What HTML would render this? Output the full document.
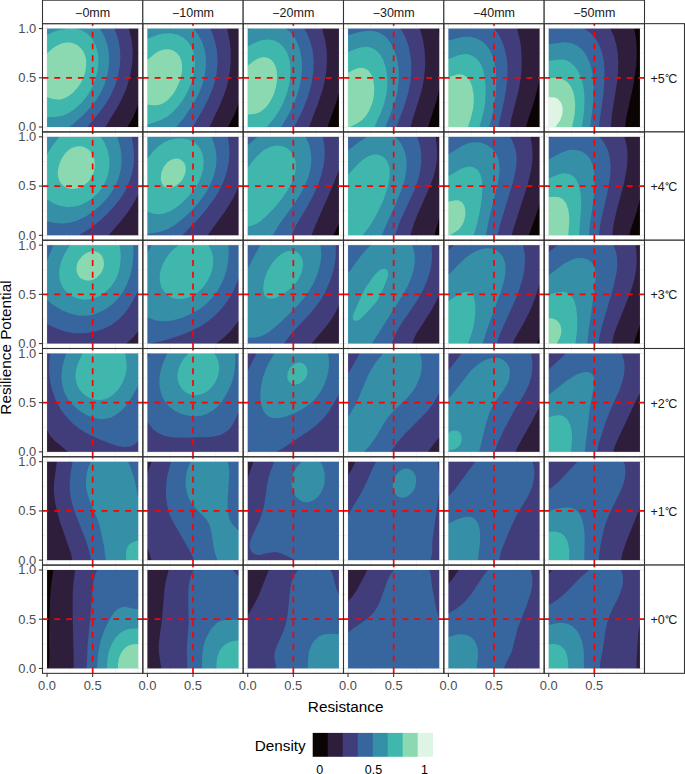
<!DOCTYPE html><html><head><meta charset="utf-8"><style>html,body{margin:0;padding:0;background:#fff;width:685px;height:774px;overflow:hidden;position:relative}</style></head><body><svg width="685" height="774" viewBox="0 0 685 774" style="position:absolute;left:0;top:0">
<rect width="100%" height="100%" fill="#fff"/>
<defs><mask id="c00" maskUnits="userSpaceOnUse" x="45.06" y="26.57" width="95.21" height="102.44"><rect x="47.06" y="28.57" width="91.21" height="98.44" fill="#fff"/></mask><clipPath id="p00"><rect x="42.5" y="23.65" width="100.33" height="108.28"/></clipPath><mask id="c01" maskUnits="userSpaceOnUse" x="145.39" y="26.57" width="95.21" height="102.44"><rect x="147.39" y="28.57" width="91.21" height="98.44" fill="#fff"/></mask><clipPath id="p01"><rect x="142.83" y="23.65" width="100.33" height="108.28"/></clipPath><mask id="c02" maskUnits="userSpaceOnUse" x="245.73" y="26.57" width="95.21" height="102.44"><rect x="247.73" y="28.57" width="91.21" height="98.44" fill="#fff"/></mask><clipPath id="p02"><rect x="243.17" y="23.65" width="100.33" height="108.28"/></clipPath><mask id="c03" maskUnits="userSpaceOnUse" x="346.06" y="26.57" width="95.21" height="102.44"><rect x="348.06" y="28.57" width="91.21" height="98.44" fill="#fff"/></mask><clipPath id="p03"><rect x="343.5" y="23.65" width="100.33" height="108.28"/></clipPath><mask id="c04" maskUnits="userSpaceOnUse" x="446.39" y="26.57" width="95.21" height="102.44"><rect x="448.39" y="28.57" width="91.21" height="98.44" fill="#fff"/></mask><clipPath id="p04"><rect x="443.83" y="23.65" width="100.33" height="108.28"/></clipPath><mask id="c05" maskUnits="userSpaceOnUse" x="546.73" y="26.57" width="95.21" height="102.44"><rect x="548.73" y="28.57" width="91.21" height="98.44" fill="#fff"/></mask><clipPath id="p05"><rect x="544.17" y="23.65" width="100.33" height="108.28"/></clipPath><mask id="c10" maskUnits="userSpaceOnUse" x="45.06" y="134.86" width="95.21" height="102.44"><rect x="47.06" y="136.86" width="91.21" height="98.44" fill="#fff"/></mask><clipPath id="p10"><rect x="42.5" y="131.93" width="100.33" height="108.28"/></clipPath><mask id="c11" maskUnits="userSpaceOnUse" x="145.39" y="134.86" width="95.21" height="102.44"><rect x="147.39" y="136.86" width="91.21" height="98.44" fill="#fff"/></mask><clipPath id="p11"><rect x="142.83" y="131.93" width="100.33" height="108.28"/></clipPath><mask id="c12" maskUnits="userSpaceOnUse" x="245.73" y="134.86" width="95.21" height="102.44"><rect x="247.73" y="136.86" width="91.21" height="98.44" fill="#fff"/></mask><clipPath id="p12"><rect x="243.17" y="131.93" width="100.33" height="108.28"/></clipPath><mask id="c13" maskUnits="userSpaceOnUse" x="346.06" y="134.86" width="95.21" height="102.44"><rect x="348.06" y="136.86" width="91.21" height="98.44" fill="#fff"/></mask><clipPath id="p13"><rect x="343.5" y="131.93" width="100.33" height="108.28"/></clipPath><mask id="c14" maskUnits="userSpaceOnUse" x="446.39" y="134.86" width="95.21" height="102.44"><rect x="448.39" y="136.86" width="91.21" height="98.44" fill="#fff"/></mask><clipPath id="p14"><rect x="443.83" y="131.93" width="100.33" height="108.28"/></clipPath><mask id="c15" maskUnits="userSpaceOnUse" x="546.73" y="134.86" width="95.21" height="102.44"><rect x="548.73" y="136.86" width="91.21" height="98.44" fill="#fff"/></mask><clipPath id="p15"><rect x="544.17" y="131.93" width="100.33" height="108.28"/></clipPath><mask id="c20" maskUnits="userSpaceOnUse" x="45.06" y="243.14" width="95.21" height="102.44"><rect x="47.06" y="245.14" width="91.21" height="98.44" fill="#fff"/></mask><clipPath id="p20"><rect x="42.5" y="240.22" width="100.33" height="108.28"/></clipPath><mask id="c21" maskUnits="userSpaceOnUse" x="145.39" y="243.14" width="95.21" height="102.44"><rect x="147.39" y="245.14" width="91.21" height="98.44" fill="#fff"/></mask><clipPath id="p21"><rect x="142.83" y="240.22" width="100.33" height="108.28"/></clipPath><mask id="c22" maskUnits="userSpaceOnUse" x="245.73" y="243.14" width="95.21" height="102.44"><rect x="247.73" y="245.14" width="91.21" height="98.44" fill="#fff"/></mask><clipPath id="p22"><rect x="243.17" y="240.22" width="100.33" height="108.28"/></clipPath><mask id="c23" maskUnits="userSpaceOnUse" x="346.06" y="243.14" width="95.21" height="102.44"><rect x="348.06" y="245.14" width="91.21" height="98.44" fill="#fff"/></mask><clipPath id="p23"><rect x="343.5" y="240.22" width="100.33" height="108.28"/></clipPath><mask id="c24" maskUnits="userSpaceOnUse" x="446.39" y="243.14" width="95.21" height="102.44"><rect x="448.39" y="245.14" width="91.21" height="98.44" fill="#fff"/></mask><clipPath id="p24"><rect x="443.83" y="240.22" width="100.33" height="108.28"/></clipPath><mask id="c25" maskUnits="userSpaceOnUse" x="546.73" y="243.14" width="95.21" height="102.44"><rect x="548.73" y="245.14" width="91.21" height="98.44" fill="#fff"/></mask><clipPath id="p25"><rect x="544.17" y="240.22" width="100.33" height="108.28"/></clipPath><mask id="c30" maskUnits="userSpaceOnUse" x="45.06" y="351.42" width="95.21" height="102.44"><rect x="47.06" y="353.42" width="91.21" height="98.44" fill="#fff"/></mask><clipPath id="p30"><rect x="42.5" y="348.5" width="100.33" height="108.28"/></clipPath><mask id="c31" maskUnits="userSpaceOnUse" x="145.39" y="351.42" width="95.21" height="102.44"><rect x="147.39" y="353.42" width="91.21" height="98.44" fill="#fff"/></mask><clipPath id="p31"><rect x="142.83" y="348.5" width="100.33" height="108.28"/></clipPath><mask id="c32" maskUnits="userSpaceOnUse" x="245.73" y="351.42" width="95.21" height="102.44"><rect x="247.73" y="353.42" width="91.21" height="98.44" fill="#fff"/></mask><clipPath id="p32"><rect x="243.17" y="348.5" width="100.33" height="108.28"/></clipPath><mask id="c33" maskUnits="userSpaceOnUse" x="346.06" y="351.42" width="95.21" height="102.44"><rect x="348.06" y="353.42" width="91.21" height="98.44" fill="#fff"/></mask><clipPath id="p33"><rect x="343.5" y="348.5" width="100.33" height="108.28"/></clipPath><mask id="c34" maskUnits="userSpaceOnUse" x="446.39" y="351.42" width="95.21" height="102.44"><rect x="448.39" y="353.42" width="91.21" height="98.44" fill="#fff"/></mask><clipPath id="p34"><rect x="443.83" y="348.5" width="100.33" height="108.28"/></clipPath><mask id="c35" maskUnits="userSpaceOnUse" x="546.73" y="351.42" width="95.21" height="102.44"><rect x="548.73" y="353.42" width="91.21" height="98.44" fill="#fff"/></mask><clipPath id="p35"><rect x="544.17" y="348.5" width="100.33" height="108.28"/></clipPath><mask id="c40" maskUnits="userSpaceOnUse" x="45.06" y="459.71" width="95.21" height="102.44"><rect x="47.06" y="461.71" width="91.21" height="98.44" fill="#fff"/></mask><clipPath id="p40"><rect x="42.5" y="456.78" width="100.33" height="108.28"/></clipPath><mask id="c41" maskUnits="userSpaceOnUse" x="145.39" y="459.71" width="95.21" height="102.44"><rect x="147.39" y="461.71" width="91.21" height="98.44" fill="#fff"/></mask><clipPath id="p41"><rect x="142.83" y="456.78" width="100.33" height="108.28"/></clipPath><mask id="c42" maskUnits="userSpaceOnUse" x="245.73" y="459.71" width="95.21" height="102.44"><rect x="247.73" y="461.71" width="91.21" height="98.44" fill="#fff"/></mask><clipPath id="p42"><rect x="243.17" y="456.78" width="100.33" height="108.28"/></clipPath><mask id="c43" maskUnits="userSpaceOnUse" x="346.06" y="459.71" width="95.21" height="102.44"><rect x="348.06" y="461.71" width="91.21" height="98.44" fill="#fff"/></mask><clipPath id="p43"><rect x="343.5" y="456.78" width="100.33" height="108.28"/></clipPath><mask id="c44" maskUnits="userSpaceOnUse" x="446.39" y="459.71" width="95.21" height="102.44"><rect x="448.39" y="461.71" width="91.21" height="98.44" fill="#fff"/></mask><clipPath id="p44"><rect x="443.83" y="456.78" width="100.33" height="108.28"/></clipPath><mask id="c45" maskUnits="userSpaceOnUse" x="546.73" y="459.71" width="95.21" height="102.44"><rect x="548.73" y="461.71" width="91.21" height="98.44" fill="#fff"/></mask><clipPath id="p45"><rect x="544.17" y="456.78" width="100.33" height="108.28"/></clipPath><mask id="c50" maskUnits="userSpaceOnUse" x="45.06" y="567.99" width="95.21" height="102.44"><rect x="47.06" y="569.99" width="91.21" height="98.44" fill="#fff"/></mask><clipPath id="p50"><rect x="42.5" y="565.07" width="100.33" height="108.28"/></clipPath><mask id="c51" maskUnits="userSpaceOnUse" x="145.39" y="567.99" width="95.21" height="102.44"><rect x="147.39" y="569.99" width="91.21" height="98.44" fill="#fff"/></mask><clipPath id="p51"><rect x="142.83" y="565.07" width="100.33" height="108.28"/></clipPath><mask id="c52" maskUnits="userSpaceOnUse" x="245.73" y="567.99" width="95.21" height="102.44"><rect x="247.73" y="569.99" width="91.21" height="98.44" fill="#fff"/></mask><clipPath id="p52"><rect x="243.17" y="565.07" width="100.33" height="108.28"/></clipPath><mask id="c53" maskUnits="userSpaceOnUse" x="346.06" y="567.99" width="95.21" height="102.44"><rect x="348.06" y="569.99" width="91.21" height="98.44" fill="#fff"/></mask><clipPath id="p53"><rect x="343.5" y="565.07" width="100.33" height="108.28"/></clipPath><mask id="c54" maskUnits="userSpaceOnUse" x="446.39" y="567.99" width="95.21" height="102.44"><rect x="448.39" y="569.99" width="91.21" height="98.44" fill="#fff"/></mask><clipPath id="p54"><rect x="443.83" y="565.07" width="100.33" height="108.28"/></clipPath><mask id="c55" maskUnits="userSpaceOnUse" x="546.73" y="567.99" width="95.21" height="102.44"><rect x="548.73" y="569.99" width="91.21" height="98.44" fill="#fff"/></mask><clipPath id="p55"><rect x="544.17" y="565.07" width="100.33" height="108.28"/></clipPath></defs>
<g font-family='"Liberation Sans", sans-serif'>
<line x1="47.06" y1="23.65" x2="47.06" y2="131.93" stroke="#EBEBEB" stroke-width="1.07"/><line x1="69.86" y1="23.65" x2="69.86" y2="131.93" stroke="#EBEBEB" stroke-width="0.53"/><line x1="92.67" y1="23.65" x2="92.67" y2="131.93" stroke="#EBEBEB" stroke-width="1.07"/><line x1="115.47" y1="23.65" x2="115.47" y2="131.93" stroke="#EBEBEB" stroke-width="0.53"/><line x1="138.27" y1="23.65" x2="138.27" y2="131.93" stroke="#EBEBEB" stroke-width="0.53"/><line x1="42.5" y1="127.01" x2="142.83" y2="127.01" stroke="#EBEBEB" stroke-width="1.07"/><line x1="42.5" y1="102.4" x2="142.83" y2="102.4" stroke="#EBEBEB" stroke-width="0.53"/><line x1="42.5" y1="77.79" x2="142.83" y2="77.79" stroke="#EBEBEB" stroke-width="1.07"/><line x1="42.5" y1="53.18" x2="142.83" y2="53.18" stroke="#EBEBEB" stroke-width="0.53"/><line x1="42.5" y1="28.57" x2="142.83" y2="28.57" stroke="#EBEBEB" stroke-width="1.07"/>
<g mask="url(#c00)"><rect x="46.06" y="27.57" width="93.21" height="100.44" fill="#0B0405"/>
<path d="M139.64 27.1 45.69 27.1 45.69 128.49 127.26 128.49 127.26 127.01 131.43 120.49 133.71 115.99 138.27 104.6 139.64 104.6Z" fill="#2E1E3C" fill-rule="evenodd"/>
<path d="M129.08 27.1 45.69 27.1 45.69 128.49 105.33 128.49 105.33 127.01 117.9 106.5 121.82 99.12 126.64 87.64 130.22 75.33 132.19 63.85 132.73 51.54 131.8 40.88 129.08 28.57Z" fill="#413D7B" fill-rule="evenodd"/>
<path d="M114.47 27.1 45.69 27.1 45.69 128.49 87.31 128.49 87.31 127.01 99.51 112.2 105.5 104.04 110.91 95.02 114.86 85.99 117.94 76.15 119.82 66.31 120.39 56.46 119.78 47.44 118.19 39.24 114.47 28.57Z" fill="#37659E" fill-rule="evenodd"/>
<path d="M99.9 27.1 45.69 27.1 45.69 128.49 69.55 128.49 69.55 127.01 82.03 116.27 90.39 107.56 96.41 99.94 100.85 92.56 104.54 84.35 107.29 75.33 108.74 67.13 109.18 58.1 108.57 50.72 106.99 43.34 104.07 35.74 99.9 28.57Z" fill="#348FA7" fill-rule="evenodd"/>
<path d="M74.95 27.1 67.32 27.1 67.32 28.57 59.22 29.93 53.9 31.87 47.06 35.08 45.69 35.08 45.69 117.21 55.42 116.99 62.26 115.71 68.34 113.23 75.18 108.62 81.27 102.96 87.35 95.41 91.87 87.64 95.62 78.61 97.78 69.59 98.47 61.39 97.83 53.18 95.71 45.39 92.42 39.24 88.11 34.35 85.07 32.13 82.03 30.53 78.22 29.2 74.95 28.57Z" fill="#40B7AD" fill-rule="evenodd"/>
<path d="M77.09 44.98 73.66 43.38 69.86 42.5 66.06 42.46 62.26 43.22 59.22 44.4 55.42 46.54 51.87 49.08 47.06 53.44 45.69 53.44 45.69 97.17 47.06 97.17 53.14 99.07 56.94 99.56 60.74 99.38 64.54 98.3 69.1 95.86 72.9 92.79 76.92 88.46 80.51 83.43 83.36 77.79 85.27 72.05 86.2 66.31 86.19 60.56 85.13 55.64 83.36 51.54 80.51 47.71Z" fill="#8AD9B1" fill-rule="evenodd"/>
</g>
<g clip-path="url(#p00)" stroke="#FF0000" stroke-width="1.7" stroke-dasharray="5.9 5.9"><line x1="92.67" y1="131.93" x2="92.67" y2="23.65"/><line x1="42.5" y1="77.79" x2="142.83" y2="77.79"/></g>
<line x1="147.39" y1="23.65" x2="147.39" y2="131.93" stroke="#EBEBEB" stroke-width="1.07"/><line x1="170.2" y1="23.65" x2="170.2" y2="131.93" stroke="#EBEBEB" stroke-width="0.53"/><line x1="193" y1="23.65" x2="193" y2="131.93" stroke="#EBEBEB" stroke-width="1.07"/><line x1="215.8" y1="23.65" x2="215.8" y2="131.93" stroke="#EBEBEB" stroke-width="0.53"/><line x1="238.61" y1="23.65" x2="238.61" y2="131.93" stroke="#EBEBEB" stroke-width="0.53"/><line x1="142.83" y1="127.01" x2="243.17" y2="127.01" stroke="#EBEBEB" stroke-width="1.07"/><line x1="142.83" y1="102.4" x2="243.17" y2="102.4" stroke="#EBEBEB" stroke-width="0.53"/><line x1="142.83" y1="77.79" x2="243.17" y2="77.79" stroke="#EBEBEB" stroke-width="1.07"/><line x1="142.83" y1="53.18" x2="243.17" y2="53.18" stroke="#EBEBEB" stroke-width="0.53"/><line x1="142.83" y1="28.57" x2="243.17" y2="28.57" stroke="#EBEBEB" stroke-width="1.07"/>
<g mask="url(#c01)"><rect x="146.39" y="27.57" width="93.21" height="100.44" fill="#0B0405"/>
<path d="M239.97 27.1 146.03 27.1 146.03 128.49 228.04 128.49 228.04 127.01 234.81 113.86 238.61 103.08 239.97 103.08Z" fill="#2E1E3C" fill-rule="evenodd"/>
<path d="M227.14 27.1 146.03 27.1 146.03 128.49 209.57 128.49 209.57 127.01 219.56 105.68 224.26 94.2 227.16 85.17 229.34 75.33 230.63 63.85 230.75 51.54 229.75 40.88 227.14 28.57Z" fill="#413D7B" fill-rule="evenodd"/>
<path d="M210.26 27.1 146.03 27.1 146.03 128.49 192.8 128.49 192.8 127.01 204.2 107.32 209.83 95.84 213.81 85.17 216.58 73.69 217.62 62.21 216.94 50.72 214.89 40.88 213.04 35.13 210.26 28.57Z" fill="#37659E" fill-rule="evenodd"/>
<path d="M193.67 27.1 146.03 27.1 146.03 128.49 176.32 128.49 176.32 127.01 183.88 117.9 191.19 107.32 194.68 101.58 198.48 94.2 202.12 85.23 204.62 76.15 205.87 67.13 205.89 58.1 204.87 50.72 202.7 43.34 198.59 35.13 193.67 28.57Z" fill="#348FA7" fill-rule="evenodd"/>
<path d="M177.8 34.77 170.96 33.3 164.12 33.46 158.04 34.76 148.15 38.61 146.03 38.86 146.03 124.48 147.39 124.48 154.23 122.52 161.08 120.06 167.16 116.7 171.72 113.12 177.8 106.87 182.92 99.94 187.16 92.56 191.1 83.53 193.51 75.33 194.74 67.13 194.75 59.74 193.5 52.36 191.24 46.62 187.68 41.48 183.12 37.49Z" fill="#40B7AD" fill-rule="evenodd"/>
<path d="M174 50.9 170.96 49.73 167.92 49.24 164.88 49.38 161.84 50.05 158.8 51.33 154.99 53.62 147.39 60.04 146.03 60.04 146.03 104.4 152.71 105.33 155.76 105.36 159.56 104.73 163.36 103.13 166.97 100.76 170.2 97.6 173.54 93.38 176.28 88.73 179.07 82.71 180.9 76.97 182 71.23 182.15 65.49 181.35 60.56 179.67 56.46 177.14 53.18Z" fill="#8AD9B1" fill-rule="evenodd"/>
</g>
<g clip-path="url(#p01)" stroke="#FF0000" stroke-width="1.7" stroke-dasharray="5.9 5.9"><line x1="193" y1="131.93" x2="193" y2="23.65"/><line x1="142.83" y1="77.79" x2="243.17" y2="77.79"/></g>
<line x1="247.73" y1="23.65" x2="247.73" y2="131.93" stroke="#EBEBEB" stroke-width="1.07"/><line x1="270.53" y1="23.65" x2="270.53" y2="131.93" stroke="#EBEBEB" stroke-width="0.53"/><line x1="293.33" y1="23.65" x2="293.33" y2="131.93" stroke="#EBEBEB" stroke-width="1.07"/><line x1="316.14" y1="23.65" x2="316.14" y2="131.93" stroke="#EBEBEB" stroke-width="0.53"/><line x1="338.94" y1="23.65" x2="338.94" y2="131.93" stroke="#EBEBEB" stroke-width="0.53"/><line x1="243.17" y1="127.01" x2="343.5" y2="127.01" stroke="#EBEBEB" stroke-width="1.07"/><line x1="243.17" y1="102.4" x2="343.5" y2="102.4" stroke="#EBEBEB" stroke-width="0.53"/><line x1="243.17" y1="77.79" x2="343.5" y2="77.79" stroke="#EBEBEB" stroke-width="1.07"/><line x1="243.17" y1="53.18" x2="343.5" y2="53.18" stroke="#EBEBEB" stroke-width="0.53"/><line x1="243.17" y1="28.57" x2="343.5" y2="28.57" stroke="#EBEBEB" stroke-width="1.07"/>
<g mask="url(#c02)"><rect x="246.73" y="27.57" width="93.21" height="100.44" fill="#0B0405"/>
<path d="M340.31 27.1 246.36 27.1 246.36 128.49 327.44 128.49 327.44 127.01 335.98 103.22 338.94 93.26 340.31 93.26Z" fill="#2E1E3C" fill-rule="evenodd"/>
<path d="M322.01 27.1 246.36 27.1 246.36 128.49 309.05 128.49 309.05 127.01 318.44 102.4 322.52 90.1 324.38 82.71 326.17 72.05 326.99 61.39 326.65 49.9 325.21 40.06 322.01 28.57Z" fill="#413D7B" fill-rule="evenodd"/>
<path d="M304.36 27.1 246.36 27.1 246.36 128.49 294.21 128.49 294.21 127.01 301.7 112.25 307.63 97.48 311.44 84.35 313.27 72.87 313.74 60.56 312.55 49.9 310.05 40.88 307.4 34.31 304.36 28.57Z" fill="#37659E" fill-rule="evenodd"/>
<path d="M286.04 27.1 250.93 27.1 250.93 28.57 247.73 29.8 246.36 29.8 246.36 128.49 281.24 128.49 281.24 127.01 289.87 112.25 295.16 100.76 298.73 90.1 301.04 79.43 302.04 67.95 301.56 58.1 299.73 49.08 296.86 41.7 294.59 37.6 292.24 34.31 289.53 31.43 286.04 28.57Z" fill="#348FA7" fill-rule="evenodd"/>
<path d="M273.57 40.32 268.25 39.43 262.17 40.03 256.09 42.13 247.73 46.32 246.36 46.32 246.36 128.49 266.67 128.49 266.67 127.01 273.57 119.11 279.28 110.6 283.78 101.58 287.1 92.56 289.37 83.53 290.5 74.51 290.43 66.31 289.25 58.92 286.9 52.36 283.45 46.98 278.89 42.86Z" fill="#40B7AD" fill-rule="evenodd"/>
<path d="M267.49 57.7 263.69 57.09 259.13 58 253.81 60.89 247.73 65.84 246.36 65.84 246.36 114.82 255.33 113.84 259.13 112.46 262.19 110.6 265.97 107.19 269.01 103.35 271.96 98.3 274.07 93.38 275.83 87.64 276.86 81.89 277.19 76.15 276.65 70.41 275.21 65.49 273.36 62.21 270.53 59.3Z" fill="#8AD9B1" fill-rule="evenodd"/>
</g>
<g clip-path="url(#p02)" stroke="#FF0000" stroke-width="1.7" stroke-dasharray="5.9 5.9"><line x1="293.33" y1="131.93" x2="293.33" y2="23.65"/><line x1="243.17" y1="77.79" x2="343.5" y2="77.79"/></g>
<line x1="348.06" y1="23.65" x2="348.06" y2="131.93" stroke="#EBEBEB" stroke-width="1.07"/><line x1="370.86" y1="23.65" x2="370.86" y2="131.93" stroke="#EBEBEB" stroke-width="0.53"/><line x1="393.67" y1="23.65" x2="393.67" y2="131.93" stroke="#EBEBEB" stroke-width="1.07"/><line x1="416.47" y1="23.65" x2="416.47" y2="131.93" stroke="#EBEBEB" stroke-width="0.53"/><line x1="439.27" y1="23.65" x2="439.27" y2="131.93" stroke="#EBEBEB" stroke-width="0.53"/><line x1="343.5" y1="127.01" x2="443.83" y2="127.01" stroke="#EBEBEB" stroke-width="1.07"/><line x1="343.5" y1="102.4" x2="443.83" y2="102.4" stroke="#EBEBEB" stroke-width="0.53"/><line x1="343.5" y1="77.79" x2="443.83" y2="77.79" stroke="#EBEBEB" stroke-width="1.07"/><line x1="343.5" y1="53.18" x2="443.83" y2="53.18" stroke="#EBEBEB" stroke-width="0.53"/><line x1="343.5" y1="28.57" x2="443.83" y2="28.57" stroke="#EBEBEB" stroke-width="1.07"/>
<g mask="url(#c03)"><rect x="347.06" y="27.57" width="93.21" height="100.44" fill="#0B0405"/>
<path d="M438.01 27.1 346.69 27.1 346.69 128.49 428.07 128.49 428.07 127.01 436.71 99.94 439.27 89.21 440.64 89.21 440.64 34.51 439.27 34.51Z" fill="#2E1E3C" fill-rule="evenodd"/>
<path d="M419.82 27.1 346.69 27.1 346.69 128.49 410.51 128.49 410.51 127.01 412.53 119.63 419.14 99.12 421.88 89.28 423.59 81.07 424.75 72.05 425.22 61.39 424.59 49.9 422.88 39.24 419.82 28.57Z" fill="#413D7B" fill-rule="evenodd"/>
<path d="M400.25 27.1 346.69 27.1 346.69 128.49 396.57 128.49 397.09 125.37 404.64 104.86 407.87 94.2 410.27 82.71 411.35 72.05 411.04 59.74 408.96 47.44 405.96 38.42 403.49 33.49 400.25 28.57Z" fill="#37659E" fill-rule="evenodd"/>
<path d="M376.94 31.79 371.62 30.79 365.54 30.88 359.46 31.98 349.58 34.82 346.69 35.12 346.69 128.49 385.52 128.49 385.8 126.19 394.75 102.4 397.58 90.92 398.92 79.43 398.74 68.77 396.92 58.1 393.67 48.64 391.4 44.16 389.11 40.7 386.4 37.6 383.54 35.13 379.98 32.96Z" fill="#348FA7" fill-rule="evenodd"/>
<path d="M370.86 47.5 366.3 46.81 361.74 47.17 356.42 48.66 348.06 52.07 346.69 52.07 346.69 128.49 374.34 128.49 374.34 127.01 380.73 113.07 384.27 103.22 386.39 94.2 387.36 85.17 387.18 76.15 385.86 67.95 383.48 60.56 379.98 54.21 375.76 49.9Z" fill="#40B7AD" fill-rule="evenodd"/>
<path d="M364.02 68.13 360.98 67.76 357.94 68.23 354.23 69.59 348.06 72.82 346.69 72.82 346.69 128.49 349.93 128.49 349.93 127.01 357.94 123.12 363.26 118.96 366.09 115.53 368.7 111.43 370.68 107.32 372.41 102.4 373.7 96.66 374.27 90.92 374.12 85.17 373.14 79.48 371.62 75.25 369.34 71.69 367.06 69.58Z" fill="#8AD9B1" fill-rule="evenodd"/>
</g>
<g clip-path="url(#p03)" stroke="#FF0000" stroke-width="1.7" stroke-dasharray="5.9 5.9"><line x1="393.67" y1="131.93" x2="393.67" y2="23.65"/><line x1="343.5" y1="77.79" x2="443.83" y2="77.79"/></g>
<line x1="448.39" y1="23.65" x2="448.39" y2="131.93" stroke="#EBEBEB" stroke-width="1.07"/><line x1="471.2" y1="23.65" x2="471.2" y2="131.93" stroke="#EBEBEB" stroke-width="0.53"/><line x1="494" y1="23.65" x2="494" y2="131.93" stroke="#EBEBEB" stroke-width="1.07"/><line x1="516.8" y1="23.65" x2="516.8" y2="131.93" stroke="#EBEBEB" stroke-width="0.53"/><line x1="539.61" y1="23.65" x2="539.61" y2="131.93" stroke="#EBEBEB" stroke-width="0.53"/><line x1="443.83" y1="127.01" x2="544.17" y2="127.01" stroke="#EBEBEB" stroke-width="1.07"/><line x1="443.83" y1="102.4" x2="544.17" y2="102.4" stroke="#EBEBEB" stroke-width="0.53"/><line x1="443.83" y1="77.79" x2="544.17" y2="77.79" stroke="#EBEBEB" stroke-width="1.07"/><line x1="443.83" y1="53.18" x2="544.17" y2="53.18" stroke="#EBEBEB" stroke-width="0.53"/><line x1="443.83" y1="28.57" x2="544.17" y2="28.57" stroke="#EBEBEB" stroke-width="1.07"/>
<g mask="url(#c04)"><rect x="447.39" y="27.57" width="93.21" height="100.44" fill="#0B0405"/>
<path d="M540.97 27.1 447.03 27.1 447.03 128.49 525.99 128.49 525.99 127.01 527.11 122.91 534.1 101.58 539.61 79.66 540.97 79.66Z" fill="#2E1E3C" fill-rule="evenodd"/>
<path d="M517.1 27.1 447.03 27.1 447.03 128.49 509.72 128.49 511.14 119.63 518.83 89.28 520.4 80.25 521.37 71.23 521.77 59.74 521.05 47.44 520.09 40.88 517.1 28.57Z" fill="#413D7B" fill-rule="evenodd"/>
<path d="M494.11 27.1 447.03 27.1 447.03 128.49 498.28 128.49 498.75 124.55 503.97 101.58 506.08 90.1 507.43 77.79 507.58 67.13 506.44 56.46 503.77 45.8 500.08 36.96 497.47 32.67 494.11 28.57Z" fill="#37659E" fill-rule="evenodd"/>
<path d="M475 37.89 469.68 36.78 464.36 36.77 459.8 37.51 449.91 40.13 447.03 40.35 447.03 128.49 489.12 128.49 489.12 127.01 491.62 117.99 493.58 108.96 495.53 95.02 496.36 79.43 495.45 67.13 494.27 61.39 492.73 56.46 490.96 52.36 488.56 48.26 485.64 44.61 482.6 41.84 478.8 39.45Z" fill="#348FA7" fill-rule="evenodd"/>
<path d="M469.68 54.73 465.88 54.11 461.32 54.48 456.76 55.84 449.15 58.88 447.03 59.1 447.03 128.49 479.4 128.49 479.4 127.01 483.4 113.07 485.06 103.22 485.77 90.1 485.06 78.61 483.32 70.41 481.84 66.46 480.02 63.03 478.04 60.32 475.76 58.04 472.72 55.98Z" fill="#40B7AD" fill-rule="evenodd"/>
<path d="M462.84 74.81 460.56 74.41 457.52 74.61 448.39 77.16 447.03 77.16 447.03 128.49 467.89 128.49 467.89 127.01 470.92 117.99 473.03 108.96 473.75 101.58 473.65 95.02 472.19 86.82 469.94 81.07 466.77 76.97Z" fill="#8AD9B1" fill-rule="evenodd"/>
</g>
<g clip-path="url(#p04)" stroke="#FF0000" stroke-width="1.7" stroke-dasharray="5.9 5.9"><line x1="494" y1="131.93" x2="494" y2="23.65"/><line x1="443.83" y1="77.79" x2="544.17" y2="77.79"/></g>
<line x1="548.73" y1="23.65" x2="548.73" y2="131.93" stroke="#EBEBEB" stroke-width="1.07"/><line x1="571.53" y1="23.65" x2="571.53" y2="131.93" stroke="#EBEBEB" stroke-width="0.53"/><line x1="594.33" y1="23.65" x2="594.33" y2="131.93" stroke="#EBEBEB" stroke-width="1.07"/><line x1="617.14" y1="23.65" x2="617.14" y2="131.93" stroke="#EBEBEB" stroke-width="0.53"/><line x1="639.94" y1="23.65" x2="639.94" y2="131.93" stroke="#EBEBEB" stroke-width="0.53"/><line x1="544.17" y1="127.01" x2="644.5" y2="127.01" stroke="#EBEBEB" stroke-width="1.07"/><line x1="544.17" y1="102.4" x2="644.5" y2="102.4" stroke="#EBEBEB" stroke-width="0.53"/><line x1="544.17" y1="77.79" x2="644.5" y2="77.79" stroke="#EBEBEB" stroke-width="1.07"/><line x1="544.17" y1="53.18" x2="644.5" y2="53.18" stroke="#EBEBEB" stroke-width="0.53"/><line x1="544.17" y1="28.57" x2="644.5" y2="28.57" stroke="#EBEBEB" stroke-width="1.07"/>
<g mask="url(#c05)"><rect x="547.73" y="27.57" width="93.21" height="100.44" fill="#0B0405"/>
<path d="M634.04 27.1 547.36 27.1 547.36 128.49 625.09 128.49 625.43 123.73 626.64 116.35 633.69 83.53 636.16 65.49 636.76 55.64 636.62 45.8 635.77 36.78 634.04 28.57Z" fill="#2E1E3C" fill-rule="evenodd"/>
<path d="M610.23 27.1 547.36 27.1 547.36 128.49 610.83 128.49 611.88 114.71 617.38 80.25 618.09 72.05 618.34 63.03 617.82 54 616.26 44.16 613.76 35.95 610.23 28.57Z" fill="#413D7B" fill-rule="evenodd"/>
<path d="M583.94 27.1 551.82 27.1 551.82 28.57 547.36 29.01 547.36 128.49 598.92 128.49 599.56 121.27 603.18 95.84 604.25 84.35 604.58 71.23 603.61 59.74 601.22 49.9 597.48 41.7 594.66 37.6 591.29 33.84 587.49 30.68 583.94 28.57Z" fill="#37659E" fill-rule="evenodd"/>
<path d="M547.36 44.56 547.36 128.49 590.12 128.49 593.15 102.4 593.52 85.99 592.88 76.97 591.66 69.59 589.79 63.03 587.33 57.28 584.28 52.36 580.65 48.36 576.85 45.55 572.29 43.5 567.73 42.5 563.17 42.35Z" fill="#348FA7" fill-rule="evenodd"/>
<path d="M547.36 61.02 547.36 128.49 581.83 128.49 584.19 109.78 584.51 96.66 583.9 90.1 582.71 83.53 581.06 77.79 578.97 72.87 576.52 68.77 573.81 65.45 570.01 62.27 566.65 60.56 563.17 59.62 559.37 59.41Z" fill="#40B7AD" fill-rule="evenodd"/>
<path d="M547.36 78.2 547.36 128.49 572.14 128.49 572.14 127.01 574.57 115.22 575.27 104.86 574.28 95.84 573.17 91.74 571.8 88.46 570.01 85.36 567.73 82.57 565.45 80.64 562.41 78.95 559.37 78.04 556.33 77.69Z" fill="#8AD9B1" fill-rule="evenodd"/>
<path d="M554.05 97.37 547.36 97.13 547.36 128.49 555.45 128.49 555.45 127.01 560.06 120.45 562.24 114.71 562.69 108.96 562.17 105.68 561.29 103.22 558.61 99.53 556.33 98.1Z" fill="#DEF5E5" fill-rule="evenodd"/>
</g>
<g clip-path="url(#p05)" stroke="#FF0000" stroke-width="1.7" stroke-dasharray="5.9 5.9"><line x1="594.33" y1="131.93" x2="594.33" y2="23.65"/><line x1="544.17" y1="77.79" x2="644.5" y2="77.79"/></g>
<line x1="47.06" y1="131.93" x2="47.06" y2="240.22" stroke="#EBEBEB" stroke-width="1.07"/><line x1="69.86" y1="131.93" x2="69.86" y2="240.22" stroke="#EBEBEB" stroke-width="0.53"/><line x1="92.67" y1="131.93" x2="92.67" y2="240.22" stroke="#EBEBEB" stroke-width="1.07"/><line x1="115.47" y1="131.93" x2="115.47" y2="240.22" stroke="#EBEBEB" stroke-width="0.53"/><line x1="138.27" y1="131.93" x2="138.27" y2="240.22" stroke="#EBEBEB" stroke-width="0.53"/><line x1="42.5" y1="235.29" x2="142.83" y2="235.29" stroke="#EBEBEB" stroke-width="1.07"/><line x1="42.5" y1="210.68" x2="142.83" y2="210.68" stroke="#EBEBEB" stroke-width="0.53"/><line x1="42.5" y1="186.08" x2="142.83" y2="186.08" stroke="#EBEBEB" stroke-width="1.07"/><line x1="42.5" y1="161.47" x2="142.83" y2="161.47" stroke="#EBEBEB" stroke-width="0.53"/><line x1="42.5" y1="136.86" x2="142.83" y2="136.86" stroke="#EBEBEB" stroke-width="1.07"/>
<g mask="url(#c10)"><rect x="46.06" y="135.86" width="93.21" height="100.44" fill="#0B0405"/>
<path d="M139.64 135.38 45.69 135.38 45.69 236.77 139.64 236.77Z" fill="#2E1E3C" fill-rule="evenodd"/>
<path d="M139.64 135.38 45.69 135.38 45.69 236.77 108.56 236.77 108.56 235.29 120.82 221.35 127.87 212.33 133.62 203.3 138.27 194.26 139.64 194.26Z" fill="#413D7B" fill-rule="evenodd"/>
<path d="M131.56 135.38 45.69 135.38 45.69 236.77 78.64 236.77 78.64 235.29 89.63 228.84 99.51 221.11 107.11 214.11 114.71 205.83 120.79 197.87 125.46 190.18 129.49 181.15 132.24 172.13 133.62 163.93 133.98 155.72 133.39 147.52Z" fill="#37659E" fill-rule="evenodd"/>
<path d="M117.46 135.38 45.69 135.38 45.69 221.36 55.42 223.02 62.26 223.43 69.86 222.66 76.7 220.77 85.07 216.95 92.67 211.97 100.27 205.61 107.11 198.3 111.94 191.82 116.07 184.43 118.95 177.05 120.91 168.85 121.62 161.47 121.34 154.08 120.36 147.52 117.46 136.86Z" fill="#348FA7" fill-rule="evenodd"/>
<path d="M100.63 135.38 59.46 135.38 59.46 136.86 52.25 145.88 47.06 154.31 45.69 154.31 45.69 199.32 47.06 199.32 53.14 203.21 59.98 205.78 66.82 206.94 73.66 206.68 80.51 204.96 87.35 201.75 93.22 197.56 98.75 192.19 103.11 186.07 106.39 179.51 108.56 172.13 109.46 164.75 109.12 157.36 107.54 149.98 104.83 143.3 100.63 136.86Z" fill="#40B7AD" fill-rule="evenodd"/>
<path d="M85.07 147.42 82.03 146.46 78.22 146.22 74.42 146.93 71.38 148.21 68.34 150.33 65.42 153.26 62.92 156.54 61.13 159.82 59.24 164.75 58.22 168.85 57.81 172.95 58.17 177.05 59.14 180.33 60.74 183.22 63.02 185.62 66.06 187.54 69.1 188.57 72.9 188.88 76.7 188.38 81.06 186.9 84.31 185.01 87.91 181.97 90.39 179.01 92.48 175.41 94.01 171.31 94.79 167.21 94.87 163.11 94.22 159 92.67 154.96 90.48 151.62 88.11 149.25Z" fill="#8AD9B1" fill-rule="evenodd"/>
</g>
<g clip-path="url(#p10)" stroke="#FF0000" stroke-width="1.7" stroke-dasharray="5.9 5.9"><line x1="92.67" y1="240.22" x2="92.67" y2="131.93"/><line x1="42.5" y1="186.08" x2="142.83" y2="186.08"/></g>
<line x1="147.39" y1="131.93" x2="147.39" y2="240.22" stroke="#EBEBEB" stroke-width="1.07"/><line x1="170.2" y1="131.93" x2="170.2" y2="240.22" stroke="#EBEBEB" stroke-width="0.53"/><line x1="193" y1="131.93" x2="193" y2="240.22" stroke="#EBEBEB" stroke-width="1.07"/><line x1="215.8" y1="131.93" x2="215.8" y2="240.22" stroke="#EBEBEB" stroke-width="0.53"/><line x1="238.61" y1="131.93" x2="238.61" y2="240.22" stroke="#EBEBEB" stroke-width="0.53"/><line x1="142.83" y1="235.29" x2="243.17" y2="235.29" stroke="#EBEBEB" stroke-width="1.07"/><line x1="142.83" y1="210.68" x2="243.17" y2="210.68" stroke="#EBEBEB" stroke-width="0.53"/><line x1="142.83" y1="186.08" x2="243.17" y2="186.08" stroke="#EBEBEB" stroke-width="1.07"/><line x1="142.83" y1="161.47" x2="243.17" y2="161.47" stroke="#EBEBEB" stroke-width="0.53"/><line x1="142.83" y1="136.86" x2="243.17" y2="136.86" stroke="#EBEBEB" stroke-width="1.07"/>
<g mask="url(#c11)"><rect x="146.39" y="135.86" width="93.21" height="100.44" fill="#0B0405"/>
<path d="M239.97 135.38 146.03 135.38 146.03 236.77 239.97 236.77Z" fill="#2E1E3C" fill-rule="evenodd"/>
<path d="M239.97 135.38 146.03 135.38 146.03 236.77 207.63 236.77 207.63 235.29 223.76 213.15 229.73 204.12 234.33 195.92 238.61 186.27 239.97 186.27Z" fill="#413D7B" fill-rule="evenodd"/>
<path d="M227.65 135.38 146.03 135.38 146.03 236.77 182.34 236.77 182.34 235.29 199.08 218.08 207.44 208.1 214.99 197.56 218.92 191 223.63 181.15 226.98 171.31 228.69 163.11 229.45 154.08 229.17 146.7Z" fill="#37659E" fill-rule="evenodd"/>
<path d="M211.44 135.38 146.03 135.38 146.03 233.64 154.99 232.84 161.84 231.33 167.92 228.98 174.76 224.94 181.6 219.75 189.96 212.16 197.56 204.1 204.98 194.28 209.21 186.9 212.49 179.51 214.87 172.13 216.22 164.75 216.55 157.36 215.93 150.8 214.28 143.95 211.44 136.86Z" fill="#348FA7" fill-rule="evenodd"/>
<path d="M194.52 142.5 189.2 139.75 183.12 138.41 176.28 138.41 169.44 139.97 164.12 142.32 158.92 145.88 154.23 150.36 147.39 158.61 146.03 158.61 146.03 211.52 147.39 211.52 153.47 213.65 158.8 214.23 164.12 213.46 169.44 211.55 175.52 207.99 181.6 203.18 189.2 195.52 194.52 188.93 198.32 182.71 201.36 175.61 203.14 168.85 203.74 162.29 202.99 155.72 201.32 150.8 198.32 146Z" fill="#40B7AD" fill-rule="evenodd"/>
<path d="M180.84 159.66 178.56 158.78 176.28 158.48 171.72 159.43 169.44 160.63 167.16 162.43 163.47 167.21 161.24 172.95 160.77 178.69 161.15 181.15 162.08 183.61 163.36 185.46 165.1 186.9 167.16 187.73 169.44 187.91 174 186.72 178.71 183.61 181.11 181.15 183.12 178.32 185.32 172.95 185.79 169.67 185.67 167.21 185.08 164.75 183.88 162.39Z" fill="#8AD9B1" fill-rule="evenodd"/>
</g>
<g clip-path="url(#p11)" stroke="#FF0000" stroke-width="1.7" stroke-dasharray="5.9 5.9"><line x1="193" y1="240.22" x2="193" y2="131.93"/><line x1="142.83" y1="186.08" x2="243.17" y2="186.08"/></g>
<line x1="247.73" y1="131.93" x2="247.73" y2="240.22" stroke="#EBEBEB" stroke-width="1.07"/><line x1="270.53" y1="131.93" x2="270.53" y2="240.22" stroke="#EBEBEB" stroke-width="0.53"/><line x1="293.33" y1="131.93" x2="293.33" y2="240.22" stroke="#EBEBEB" stroke-width="1.07"/><line x1="316.14" y1="131.93" x2="316.14" y2="240.22" stroke="#EBEBEB" stroke-width="0.53"/><line x1="338.94" y1="131.93" x2="338.94" y2="240.22" stroke="#EBEBEB" stroke-width="0.53"/><line x1="243.17" y1="235.29" x2="343.5" y2="235.29" stroke="#EBEBEB" stroke-width="1.07"/><line x1="243.17" y1="210.68" x2="343.5" y2="210.68" stroke="#EBEBEB" stroke-width="0.53"/><line x1="243.17" y1="186.08" x2="343.5" y2="186.08" stroke="#EBEBEB" stroke-width="1.07"/><line x1="243.17" y1="161.47" x2="343.5" y2="161.47" stroke="#EBEBEB" stroke-width="0.53"/><line x1="243.17" y1="136.86" x2="343.5" y2="136.86" stroke="#EBEBEB" stroke-width="1.07"/>
<g mask="url(#c12)"><rect x="246.73" y="135.86" width="93.21" height="100.44" fill="#0B0405"/>
<path d="M340.31 135.38 246.36 135.38 246.36 236.77 333.53 236.77 333.53 235.29 338.94 223.59 340.31 223.59Z" fill="#2E1E3C" fill-rule="evenodd"/>
<path d="M340.31 135.38 246.36 135.38 246.36 236.77 311.43 236.77 311.43 235.29 315.34 225.45 331.57 188.54 338.94 170.09 340.31 170.09Z" fill="#413D7B" fill-rule="evenodd"/>
<path d="M322.8 135.38 246.36 135.38 246.36 236.77 291.48 236.77 291.48 235.29 295.92 225.45 308.19 204.94 313.83 194.28 318.11 184.43 321.45 174.59 323.65 165.57 324.81 155.72 324.5 146.7Z" fill="#37659E" fill-rule="evenodd"/>
<path d="M305.68 135.38 257.64 135.38 257.64 136.86 247.73 145.26 246.36 145.26 246.36 236.77 272.86 236.77 272.86 235.29 278.93 224.63 292.57 206.26 299.86 195.1 304.25 186.9 307.72 178.69 309.98 171.31 311.14 163.93 311.34 157.36 310.49 149.98 308.54 143.01 305.68 136.86Z" fill="#348FA7" fill-rule="evenodd"/>
<path d="M285.73 147.47 281.17 145.88 276.61 145.59 271.29 146.53 266.73 148.46 262.93 150.74 259.94 153.26 253.79 159.82 247.73 167.85 246.36 167.85 246.36 226.82 250.77 226.02 256.09 224 260.65 220.88 265.97 216.26 275.09 206.9 281.17 199.43 286.49 191.88 291.05 183.99 293.71 177.87 295.17 172.95 295.94 167.21 295.69 162.29 294.4 157.36 292.26 153.26 289.38 149.98Z" fill="#40B7AD" fill-rule="evenodd"/>
</g>
<g clip-path="url(#p12)" stroke="#FF0000" stroke-width="1.7" stroke-dasharray="5.9 5.9"><line x1="293.33" y1="240.22" x2="293.33" y2="131.93"/><line x1="243.17" y1="186.08" x2="343.5" y2="186.08"/></g>
<line x1="348.06" y1="131.93" x2="348.06" y2="240.22" stroke="#EBEBEB" stroke-width="1.07"/><line x1="370.86" y1="131.93" x2="370.86" y2="240.22" stroke="#EBEBEB" stroke-width="0.53"/><line x1="393.67" y1="131.93" x2="393.67" y2="240.22" stroke="#EBEBEB" stroke-width="1.07"/><line x1="416.47" y1="131.93" x2="416.47" y2="240.22" stroke="#EBEBEB" stroke-width="0.53"/><line x1="439.27" y1="131.93" x2="439.27" y2="240.22" stroke="#EBEBEB" stroke-width="0.53"/><line x1="343.5" y1="235.29" x2="443.83" y2="235.29" stroke="#EBEBEB" stroke-width="1.07"/><line x1="343.5" y1="210.68" x2="443.83" y2="210.68" stroke="#EBEBEB" stroke-width="0.53"/><line x1="343.5" y1="186.08" x2="443.83" y2="186.08" stroke="#EBEBEB" stroke-width="1.07"/><line x1="343.5" y1="161.47" x2="443.83" y2="161.47" stroke="#EBEBEB" stroke-width="0.53"/><line x1="343.5" y1="136.86" x2="443.83" y2="136.86" stroke="#EBEBEB" stroke-width="1.07"/>
<g mask="url(#c13)"><rect x="347.06" y="135.86" width="93.21" height="100.44" fill="#0B0405"/>
<path d="M440.64 135.38 346.69 135.38 346.69 236.77 434.43 236.77 434.43 235.29 439.27 217.88 440.64 217.88Z" fill="#2E1E3C" fill-rule="evenodd"/>
<path d="M435.41 135.38 346.69 135.38 346.69 236.77 410.34 236.77 410.34 235.29 414.19 222.87 417.41 214.79 430.1 186.07 432.81 178.69 434.97 171.31 436.55 163.11 437.12 154.9 436.81 146.7Z" fill="#413D7B" fill-rule="evenodd"/>
<path d="M417.39 135.38 346.69 135.38 346.69 236.77 395.07 236.77 395.07 235.29 400.02 221.35 415.03 188.54 417.91 180.33 419.85 172.95 421.24 163.93 421.36 154.9 420.27 146.7 417.39 136.86Z" fill="#37659E" fill-rule="evenodd"/>
<path d="M394.47 135.38 367.14 135.38 367.14 136.86 360.98 140.5 348.06 150.29 346.69 150.29 346.69 236.77 381.81 236.77 381.81 235.29 384.51 228.73 396 203.3 401.36 190.18 404.51 180.33 406.26 171.31 406.67 165.57 406.54 160.64 405.88 155.72 404.58 150.8 401.27 143.85 398.23 140.04 394.47 136.86Z" fill="#348FA7" fill-rule="evenodd"/>
<path d="M380.74 155.45 377.7 154.62 373.9 154.61 370.1 155.53 366.34 157.36 362.5 159.93 358.91 163.11 348.06 174.87 346.69 174.87 346.69 236.77 362.84 236.77 362.84 235.29 369.34 226.53 374.66 218.26 382.05 203.3 385.31 194.88 387.92 186.07 389.38 178.69 389.82 172.13 389.14 166.39 387.31 161.47 384.55 157.89Z" fill="#40B7AD" fill-rule="evenodd"/>
</g>
<g clip-path="url(#p13)" stroke="#FF0000" stroke-width="1.7" stroke-dasharray="5.9 5.9"><line x1="393.67" y1="240.22" x2="393.67" y2="131.93"/><line x1="343.5" y1="186.08" x2="443.83" y2="186.08"/></g>
<line x1="448.39" y1="131.93" x2="448.39" y2="240.22" stroke="#EBEBEB" stroke-width="1.07"/><line x1="471.2" y1="131.93" x2="471.2" y2="240.22" stroke="#EBEBEB" stroke-width="0.53"/><line x1="494" y1="131.93" x2="494" y2="240.22" stroke="#EBEBEB" stroke-width="1.07"/><line x1="516.8" y1="131.93" x2="516.8" y2="240.22" stroke="#EBEBEB" stroke-width="0.53"/><line x1="539.61" y1="131.93" x2="539.61" y2="240.22" stroke="#EBEBEB" stroke-width="0.53"/><line x1="443.83" y1="235.29" x2="544.17" y2="235.29" stroke="#EBEBEB" stroke-width="1.07"/><line x1="443.83" y1="210.68" x2="544.17" y2="210.68" stroke="#EBEBEB" stroke-width="0.53"/><line x1="443.83" y1="186.08" x2="544.17" y2="186.08" stroke="#EBEBEB" stroke-width="1.07"/><line x1="443.83" y1="161.47" x2="544.17" y2="161.47" stroke="#EBEBEB" stroke-width="0.53"/><line x1="443.83" y1="136.86" x2="544.17" y2="136.86" stroke="#EBEBEB" stroke-width="1.07"/>
<g mask="url(#c14)"><rect x="447.39" y="135.86" width="93.21" height="100.44" fill="#0B0405"/>
<path d="M540.97 135.38 447.03 135.38 447.03 236.77 528.81 236.77 529.06 234.47 535.95 215.61 539.61 203.54 540.97 203.54Z" fill="#2E1E3C" fill-rule="evenodd"/>
<path d="M530.36 135.38 447.03 135.38 447.03 236.77 511.73 236.77 511.73 235.29 513.73 227.91 527.68 184.43 531.1 170.49 532.31 161.47 532.57 153.26 532.03 145.88Z" fill="#413D7B" fill-rule="evenodd"/>
<path d="M510.01 135.38 447.03 135.38 447.03 236.77 497.53 236.77 498.03 232.83 500.72 222.17 513.56 180.33 516.24 167.21 516.73 159 515.97 151.62 514.47 145.88 512.74 141.78 510.01 136.86Z" fill="#37659E" fill-rule="evenodd"/>
<path d="M484.88 143.93 481.08 142.73 477.28 142.2 473.48 142.28 468.92 143.12 462.08 145.85 448.39 154.4 447.03 154.4 447.03 236.77 485.92 236.77 487.11 228.73 489.44 217.42 498.14 181.97 499.32 174.59 499.63 168.03 498.56 159.82 497.44 156.54 495.74 153.26 493.32 149.98 490.96 147.67 487.92 145.47Z" fill="#348FA7" fill-rule="evenodd"/>
<path d="M473.48 167.14 469.68 166.46 464.36 167.43 459.8 169.49 448.39 176.18 447.03 176.18 447.03 236.77 473.64 236.77 473.64 235.29 476.66 225.45 480.02 210.68 481.87 197.56 482.41 186.9 481.81 179.51 480.13 173.77 477.28 169.56Z" fill="#40B7AD" fill-rule="evenodd"/>
<path d="M459.04 200.53 455.23 200.19 448.39 201.87 447.03 201.87 447.03 236.77 449.72 236.77 449.72 235.29 455.99 231.58 459.04 229.16 462.08 225.25 464.25 220.53 465.47 213.97 464.98 208.22 464.19 205.76 462.84 203.34 461.32 201.77Z" fill="#8AD9B1" fill-rule="evenodd"/>
</g>
<g clip-path="url(#p14)" stroke="#FF0000" stroke-width="1.7" stroke-dasharray="5.9 5.9"><line x1="494" y1="240.22" x2="494" y2="131.93"/><line x1="443.83" y1="186.08" x2="544.17" y2="186.08"/></g>
<line x1="548.73" y1="131.93" x2="548.73" y2="240.22" stroke="#EBEBEB" stroke-width="1.07"/><line x1="571.53" y1="131.93" x2="571.53" y2="240.22" stroke="#EBEBEB" stroke-width="0.53"/><line x1="594.33" y1="131.93" x2="594.33" y2="240.22" stroke="#EBEBEB" stroke-width="1.07"/><line x1="617.14" y1="131.93" x2="617.14" y2="240.22" stroke="#EBEBEB" stroke-width="0.53"/><line x1="639.94" y1="131.93" x2="639.94" y2="240.22" stroke="#EBEBEB" stroke-width="0.53"/><line x1="544.17" y1="235.29" x2="644.5" y2="235.29" stroke="#EBEBEB" stroke-width="1.07"/><line x1="544.17" y1="210.68" x2="644.5" y2="210.68" stroke="#EBEBEB" stroke-width="0.53"/><line x1="544.17" y1="186.08" x2="644.5" y2="186.08" stroke="#EBEBEB" stroke-width="1.07"/><line x1="544.17" y1="161.47" x2="644.5" y2="161.47" stroke="#EBEBEB" stroke-width="0.53"/><line x1="544.17" y1="136.86" x2="644.5" y2="136.86" stroke="#EBEBEB" stroke-width="1.07"/>
<g mask="url(#c15)"><rect x="547.73" y="135.86" width="93.21" height="100.44" fill="#0B0405"/>
<path d="M641.31 135.38 547.36 135.38 547.36 236.77 629.1 236.77 629.88 232.01 636.56 212.33 639.94 198.73 641.31 198.73Z" fill="#2E1E3C" fill-rule="evenodd"/>
<path d="M624.38 135.38 547.36 135.38 547.36 236.77 612.3 236.77 612.79 229.55 614.35 220.53 617.08 209.04 623.78 184.43 626.9 168.03 627.55 159.82 627.39 151.62 626.55 145.06 624.38 136.86Z" fill="#413D7B" fill-rule="evenodd"/>
<path d="M599.3 135.38 552.08 135.38 552.08 136.86 548.73 138.29 547.36 138.29 547.36 236.77 598.97 236.77 599.34 231.19 600.86 221.35 607.06 194.28 609.13 183.61 610.24 175.41 610.62 168.03 610.02 159 608.06 150.8 604.62 143.42 602.32 140.14 599.3 136.86Z" fill="#37659E" fill-rule="evenodd"/>
<path d="M580.65 151.07 574.57 149.75 570.77 149.86 566.97 150.54 559.37 153.54 548.73 159.41 547.36 159.41 547.36 236.77 588.96 236.77 589.78 225.45 593.11 202.48 594.27 191.82 594.78 182.79 594.5 174.59 592.85 165.57 590.04 159 588.25 156.53 585.97 154.25 583.45 152.44Z" fill="#348FA7" fill-rule="evenodd"/>
<path d="M569.25 173.92 565.45 173.26 561.65 173.58 557.09 174.9 548.73 178.25 547.36 178.25 547.36 236.77 579 236.77 581.13 206.58 581.05 198.38 580.39 191.82 578.87 185.25 576.68 180.33 573.29 176.23Z" fill="#40B7AD" fill-rule="evenodd"/>
<path d="M547.36 197.33 547.36 236.77 568.08 236.77 569.25 222.99 569.17 216.43 568.36 209.86 566.09 203.3 563.17 199.44 559.37 197.26 554.81 196.7Z" fill="#8AD9B1" fill-rule="evenodd"/>
</g>
<g clip-path="url(#p15)" stroke="#FF0000" stroke-width="1.7" stroke-dasharray="5.9 5.9"><line x1="594.33" y1="240.22" x2="594.33" y2="131.93"/><line x1="544.17" y1="186.08" x2="644.5" y2="186.08"/></g>
<line x1="47.06" y1="240.22" x2="47.06" y2="348.5" stroke="#EBEBEB" stroke-width="1.07"/><line x1="69.86" y1="240.22" x2="69.86" y2="348.5" stroke="#EBEBEB" stroke-width="0.53"/><line x1="92.67" y1="240.22" x2="92.67" y2="348.5" stroke="#EBEBEB" stroke-width="1.07"/><line x1="115.47" y1="240.22" x2="115.47" y2="348.5" stroke="#EBEBEB" stroke-width="0.53"/><line x1="138.27" y1="240.22" x2="138.27" y2="348.5" stroke="#EBEBEB" stroke-width="0.53"/><line x1="42.5" y1="343.58" x2="142.83" y2="343.58" stroke="#EBEBEB" stroke-width="1.07"/><line x1="42.5" y1="318.97" x2="142.83" y2="318.97" stroke="#EBEBEB" stroke-width="0.53"/><line x1="42.5" y1="294.36" x2="142.83" y2="294.36" stroke="#EBEBEB" stroke-width="1.07"/><line x1="42.5" y1="269.75" x2="142.83" y2="269.75" stroke="#EBEBEB" stroke-width="0.53"/><line x1="42.5" y1="245.14" x2="142.83" y2="245.14" stroke="#EBEBEB" stroke-width="1.07"/>
<g mask="url(#c20)"><rect x="46.06" y="244.14" width="93.21" height="100.44" fill="#0B0405"/>
<path d="M139.64 243.66 45.69 243.66 45.69 345.05 139.64 345.05Z" fill="#2E1E3C" fill-rule="evenodd"/>
<path d="M139.64 243.66 45.69 243.66 45.69 345.05 126.38 345.05 126.38 343.58 132.88 337.84 138.27 331.36 139.64 331.36Z" fill="#413D7B" fill-rule="evenodd"/>
<path d="M139.64 243.66 45.69 243.66 45.69 324.28 47.06 324.28 57.7 329.11 66.06 331.81 74.42 333.13 84.31 333.23 94.19 331.77 102.55 329.29 110.91 325.19 118.26 319.79 123.07 315.06 127.2 309.94 133.36 300.1 138.27 290.42 139.64 290.42Z" fill="#37659E" fill-rule="evenodd"/>
<path d="M133.27 243.66 53.28 243.66 53.28 245.14 47.06 260.59 45.69 260.59 45.69 299.43 47.06 299.43 49.08 301.74 52.38 304.45 62.26 310.38 69.86 313.57 77.46 315.41 85.07 315.86 91.91 314.92 99.51 312.34 106.35 308.68 113.19 303.44 118.76 297.64 123.83 290.43 127.68 282.87 130.47 274.67 132.57 264.83 133.42 254.98Z" fill="#348FA7" fill-rule="evenodd"/>
<path d="M119.43 243.66 69.9 243.66 69.9 245.14 65.3 252.5 62.48 258.26 60.5 264.01 59.32 269.75 59.17 275.49 60.12 281.23 62.14 286.16 64.98 290.26 69.1 294.19 73.66 297.02 78.98 298.96 84.31 299.72 90.17 299.28 95.71 297.73 101.03 295.16 106.35 291.36 110.7 286.98 113.95 282.55 116.82 277.13 118.81 271.39 120.17 264.83 120.72 257.44 120.51 251.7Z" fill="#40B7AD" fill-rule="evenodd"/>
<path d="M98.17 252.52 95.71 251.55 93.43 251.23 90.39 251.47 88.11 252.14 85.07 253.71 82.79 255.42 78.99 259.9 77.73 262.37 76.7 265.62 76.5 270.57 77.07 273.03 78.22 275.49 79.74 277.41 81.44 278.77 83.55 279.83 86.59 280.54 89.63 280.52 91.91 280.05 94.89 278.77 97.23 277.2 101.08 273.03 102.55 270.26 103.52 267.29 103.96 264.01 103.84 261.55 103.01 258.26 101.79 255.9 100.27 254.08Z" fill="#8AD9B1" fill-rule="evenodd"/>
</g>
<g clip-path="url(#p20)" stroke="#FF0000" stroke-width="1.7" stroke-dasharray="5.9 5.9"><line x1="92.67" y1="348.5" x2="92.67" y2="240.22"/><line x1="42.5" y1="294.36" x2="142.83" y2="294.36"/></g>
<line x1="147.39" y1="240.22" x2="147.39" y2="348.5" stroke="#EBEBEB" stroke-width="1.07"/><line x1="170.2" y1="240.22" x2="170.2" y2="348.5" stroke="#EBEBEB" stroke-width="0.53"/><line x1="193" y1="240.22" x2="193" y2="348.5" stroke="#EBEBEB" stroke-width="1.07"/><line x1="215.8" y1="240.22" x2="215.8" y2="348.5" stroke="#EBEBEB" stroke-width="0.53"/><line x1="238.61" y1="240.22" x2="238.61" y2="348.5" stroke="#EBEBEB" stroke-width="0.53"/><line x1="142.83" y1="343.58" x2="243.17" y2="343.58" stroke="#EBEBEB" stroke-width="1.07"/><line x1="142.83" y1="318.97" x2="243.17" y2="318.97" stroke="#EBEBEB" stroke-width="0.53"/><line x1="142.83" y1="294.36" x2="243.17" y2="294.36" stroke="#EBEBEB" stroke-width="1.07"/><line x1="142.83" y1="269.75" x2="243.17" y2="269.75" stroke="#EBEBEB" stroke-width="0.53"/><line x1="142.83" y1="245.14" x2="243.17" y2="245.14" stroke="#EBEBEB" stroke-width="1.07"/>
<g mask="url(#c21)"><rect x="146.39" y="244.14" width="93.21" height="100.44" fill="#0B0405"/>
<path d="M239.97 243.66 146.03 243.66 146.03 345.05 239.97 345.05Z" fill="#2E1E3C" fill-rule="evenodd"/>
<path d="M239.97 243.66 146.03 243.66 146.03 345.05 215.89 345.05 215.89 343.58 223.4 338.03 230.43 331.27 238.61 320.9 239.97 320.9Z" fill="#413D7B" fill-rule="evenodd"/>
<path d="M239.97 243.66 146.03 243.66 146.03 345.05 150.08 345.05 150.08 343.58 160.32 341.48 172.48 337.93 184.64 333.66 191.48 330.81 200.6 326.25 207.44 321.83 213.05 317.33 219.66 310.76 224.53 305.02 230.32 296.82 234.69 288.62 238.61 277.99 239.97 277.99Z" fill="#37659E" fill-rule="evenodd"/>
<path d="M228.49 243.66 151.59 243.66 151.59 245.14 147.39 252.51 146.03 252.51 146.03 317.34 147.39 317.34 154.23 320.02 159.56 321.07 167.16 321.26 173.24 320.3 182.36 317.71 191.48 313.85 199.08 309.55 205.92 304.32 211.69 298.46 216.79 291.9 220.73 285.33 224.06 277.95 226.6 269.75 228.17 261.55 228.78 253.34Z" fill="#348FA7" fill-rule="evenodd"/>
<path d="M208.39 243.66 178.35 243.66 178.35 245.14 173.24 249.43 169.44 253.47 165.59 259.08 162.53 264.83 160.62 270.57 159.67 276.31 159.97 282.05 161.38 286.98 163.63 291.08 167.16 294.81 170.96 297.25 175.52 298.76 180.08 299.11 185.4 298.46 190.72 296.63 196.04 293.66 199.84 290.54 203.82 286.16 207.44 280.96 210.48 275.09 212.06 270.57 213.14 264.83 213.3 259.9 212.53 254.16 210.84 249.24 208.39 245.14Z" fill="#40B7AD" fill-rule="evenodd"/>
</g>
<g clip-path="url(#p21)" stroke="#FF0000" stroke-width="1.7" stroke-dasharray="5.9 5.9"><line x1="193" y1="348.5" x2="193" y2="240.22"/><line x1="142.83" y1="294.36" x2="243.17" y2="294.36"/></g>
<line x1="247.73" y1="240.22" x2="247.73" y2="348.5" stroke="#EBEBEB" stroke-width="1.07"/><line x1="270.53" y1="240.22" x2="270.53" y2="348.5" stroke="#EBEBEB" stroke-width="0.53"/><line x1="293.33" y1="240.22" x2="293.33" y2="348.5" stroke="#EBEBEB" stroke-width="1.07"/><line x1="316.14" y1="240.22" x2="316.14" y2="348.5" stroke="#EBEBEB" stroke-width="0.53"/><line x1="338.94" y1="240.22" x2="338.94" y2="348.5" stroke="#EBEBEB" stroke-width="0.53"/><line x1="243.17" y1="343.58" x2="343.5" y2="343.58" stroke="#EBEBEB" stroke-width="1.07"/><line x1="243.17" y1="318.97" x2="343.5" y2="318.97" stroke="#EBEBEB" stroke-width="0.53"/><line x1="243.17" y1="294.36" x2="343.5" y2="294.36" stroke="#EBEBEB" stroke-width="1.07"/><line x1="243.17" y1="269.75" x2="343.5" y2="269.75" stroke="#EBEBEB" stroke-width="0.53"/><line x1="243.17" y1="245.14" x2="343.5" y2="245.14" stroke="#EBEBEB" stroke-width="1.07"/>
<g mask="url(#c22)"><rect x="246.73" y="244.14" width="93.21" height="100.44" fill="#0B0405"/>
<path d="M340.31 243.66 246.36 243.66 246.36 345.05 340.31 345.05Z" fill="#2E1E3C" fill-rule="evenodd"/>
<path d="M340.31 243.66 246.36 243.66 246.36 345.05 311.62 345.05 311.62 343.58 325.54 327.17 331.34 319.49 334.75 314.05 338.94 305.59 340.31 305.59Z" fill="#413D7B" fill-rule="evenodd"/>
<path d="M335.8 243.66 246.36 243.66 246.36 345.05 283.94 345.05 283.94 343.58 290.19 335.37 297.28 327.17 309.68 314.05 316.43 305.84 321.09 299.28 325.33 291.9 330.69 279.59 334.28 267.29 335.8 256.62Z" fill="#37659E" fill-rule="evenodd"/>
<path d="M320.34 243.66 260.16 243.66 260.16 245.14 247.73 268.47 246.36 268.47 246.36 337.74 253.05 337.85 258.37 337.06 262.93 335.48 269.01 331.92 274.33 327.82 281.93 321.04 297.13 306.07 303.73 298.46 308.49 291.9 312.42 285.33 315.95 277.95 318.63 270.57 320.42 263.19 321.21 256.62 321.17 251.7Z" fill="#348FA7" fill-rule="evenodd"/>
<path d="M297.65 252.52 294.85 251.21 291.81 250.73 288.01 251.11 284.97 252.11 281.93 253.7 278.13 256.52 274.74 259.9 271.56 264.01 268.6 268.93 266.31 273.85 264.67 278.77 263.64 283.69 263.24 288.62 263.69 292.63 264.66 295.18 266.73 297.48 269.01 298.5 272.05 298.7 275.85 297.82 280.41 295.79 284.97 293.01 290.29 288.77 294.09 284.99 297.03 281.23 299.52 277.13 301.37 273.03 302.51 268.93 302.98 264.83 302.71 260.72 301.69 257.48 300.17 254.9Z" fill="#40B7AD" fill-rule="evenodd"/>
</g>
<g clip-path="url(#p22)" stroke="#FF0000" stroke-width="1.7" stroke-dasharray="5.9 5.9"><line x1="293.33" y1="348.5" x2="293.33" y2="240.22"/><line x1="243.17" y1="294.36" x2="343.5" y2="294.36"/></g>
<line x1="348.06" y1="240.22" x2="348.06" y2="348.5" stroke="#EBEBEB" stroke-width="1.07"/><line x1="370.86" y1="240.22" x2="370.86" y2="348.5" stroke="#EBEBEB" stroke-width="0.53"/><line x1="393.67" y1="240.22" x2="393.67" y2="348.5" stroke="#EBEBEB" stroke-width="1.07"/><line x1="416.47" y1="240.22" x2="416.47" y2="348.5" stroke="#EBEBEB" stroke-width="0.53"/><line x1="439.27" y1="240.22" x2="439.27" y2="348.5" stroke="#EBEBEB" stroke-width="0.53"/><line x1="343.5" y1="343.58" x2="443.83" y2="343.58" stroke="#EBEBEB" stroke-width="1.07"/><line x1="343.5" y1="318.97" x2="443.83" y2="318.97" stroke="#EBEBEB" stroke-width="0.53"/><line x1="343.5" y1="294.36" x2="443.83" y2="294.36" stroke="#EBEBEB" stroke-width="1.07"/><line x1="343.5" y1="269.75" x2="443.83" y2="269.75" stroke="#EBEBEB" stroke-width="0.53"/><line x1="343.5" y1="245.14" x2="443.83" y2="245.14" stroke="#EBEBEB" stroke-width="1.07"/>
<g mask="url(#c23)"><rect x="347.06" y="244.14" width="93.21" height="100.44" fill="#0B0405"/>
<path d="M440.64 243.66 346.69 243.66 346.69 345.05 440.64 345.05Z" fill="#2E1E3C" fill-rule="evenodd"/>
<path d="M440.64 243.66 346.69 243.66 346.69 345.05 412.26 345.05 412.26 343.58 413.25 340.3 416.47 333.62 431.54 309.94 439.27 295.5 440.64 295.5Z" fill="#413D7B" fill-rule="evenodd"/>
<path d="M431.36 243.66 346.69 243.66 346.69 345.05 391.81 345.05 391.81 343.58 393.59 338.66 397.69 329.63 402.69 321.43 412.56 307.48 418.43 298.46 423.29 289.44 426.91 281.23 429.88 272.21 431.62 263.19 432.06 254.98Z" fill="#37659E" fill-rule="evenodd"/>
<path d="M412.2 243.66 370.79 243.66 370.79 245.14 365.89 250.06 361.05 255.8 350.21 270.57 348.06 272.96 346.69 272.96 346.69 345.05 372.04 345.05 372.04 343.58 403.6 293.54 407.59 286.16 410.89 278.77 413.68 269.75 414.89 260.72 414.46 253.34 413.43 248.49 412.2 245.14Z" fill="#348FA7" fill-rule="evenodd"/>
<path d="M386.07 269.3 384.55 268.75 382.27 268.93 379.98 269.93 377.7 271.65 373.9 275.87 365.56 287.8 361.03 296.82 353.45 314.05 352.82 316.51 352.82 318.15 353.38 319.53 354.14 320.25 355.66 320.79 357.18 320.71 359.41 319.79 360.98 318.62 374.66 304.1 377.66 300.1 382.18 291.08 387.53 277.95 388.11 274.67 387.95 272.21 387.31 270.57Z" fill="#40B7AD" fill-rule="evenodd"/>
</g>
<g clip-path="url(#p23)" stroke="#FF0000" stroke-width="1.7" stroke-dasharray="5.9 5.9"><line x1="393.67" y1="348.5" x2="393.67" y2="240.22"/><line x1="343.5" y1="294.36" x2="443.83" y2="294.36"/></g>
<line x1="448.39" y1="240.22" x2="448.39" y2="348.5" stroke="#EBEBEB" stroke-width="1.07"/><line x1="471.2" y1="240.22" x2="471.2" y2="348.5" stroke="#EBEBEB" stroke-width="0.53"/><line x1="494" y1="240.22" x2="494" y2="348.5" stroke="#EBEBEB" stroke-width="1.07"/><line x1="516.8" y1="240.22" x2="516.8" y2="348.5" stroke="#EBEBEB" stroke-width="0.53"/><line x1="539.61" y1="240.22" x2="539.61" y2="348.5" stroke="#EBEBEB" stroke-width="0.53"/><line x1="443.83" y1="343.58" x2="544.17" y2="343.58" stroke="#EBEBEB" stroke-width="1.07"/><line x1="443.83" y1="318.97" x2="544.17" y2="318.97" stroke="#EBEBEB" stroke-width="0.53"/><line x1="443.83" y1="294.36" x2="544.17" y2="294.36" stroke="#EBEBEB" stroke-width="1.07"/><line x1="443.83" y1="269.75" x2="544.17" y2="269.75" stroke="#EBEBEB" stroke-width="0.53"/><line x1="443.83" y1="245.14" x2="544.17" y2="245.14" stroke="#EBEBEB" stroke-width="1.07"/>
<g mask="url(#c24)"><rect x="447.39" y="244.14" width="93.21" height="100.44" fill="#0B0405"/>
<path d="M540.97 243.66 447.03 243.66 447.03 345.05 536.93 345.05 536.93 343.58 539.61 337.76 540.97 337.76Z" fill="#2E1E3C" fill-rule="evenodd"/>
<path d="M540.97 243.66 447.03 243.66 447.03 345.05 512.69 345.05 512.69 343.58 514.84 338.66 524.2 322.25 530.31 309.94 535.26 297.64 539.61 284.39 540.97 284.39Z" fill="#413D7B" fill-rule="evenodd"/>
<path d="M523.01 243.66 453.95 243.66 453.95 245.14 448.39 250.22 447.03 250.22 447.03 345.05 496.86 345.05 497.3 341.94 500 333.73 516.24 297.64 519.65 288.62 522.57 278.77 524.36 269.75 525.13 260.72 524.74 253.34 523.01 245.14Z" fill="#37659E" fill-rule="evenodd"/>
<path d="M496.08 250.06 491.72 248.55 486.4 248.28 481.08 249.2 475 251.53 470.44 254.19 465.88 257.55 457.52 265.42 449.91 273.55 448.39 274.85 447.03 274.85 447.03 345.05 482.7 345.05 482.91 342.76 486.4 331.27 501.65 289.44 503.97 281.23 505.26 274.67 505.57 266.47 505.17 263.19 504.26 259.9 502.74 256.62 501.05 254.16 498.57 251.7Z" fill="#348FA7" fill-rule="evenodd"/>
<path d="M469.68 292.04 466.64 291.63 462.08 292.72 456.76 295.59 448.89 300.92 447.03 301.2 447.03 345.05 468.02 345.05 468.02 343.58 471.08 335.37 473.48 326.61 474.72 318.97 475.35 310.76 475.18 303.38 474.21 297.64 472.66 294.36 471.2 292.87Z" fill="#40B7AD" fill-rule="evenodd"/>
</g>
<g clip-path="url(#p24)" stroke="#FF0000" stroke-width="1.7" stroke-dasharray="5.9 5.9"><line x1="494" y1="348.5" x2="494" y2="240.22"/><line x1="443.83" y1="294.36" x2="544.17" y2="294.36"/></g>
<line x1="548.73" y1="240.22" x2="548.73" y2="348.5" stroke="#EBEBEB" stroke-width="1.07"/><line x1="571.53" y1="240.22" x2="571.53" y2="348.5" stroke="#EBEBEB" stroke-width="0.53"/><line x1="594.33" y1="240.22" x2="594.33" y2="348.5" stroke="#EBEBEB" stroke-width="1.07"/><line x1="617.14" y1="240.22" x2="617.14" y2="348.5" stroke="#EBEBEB" stroke-width="0.53"/><line x1="639.94" y1="240.22" x2="639.94" y2="348.5" stroke="#EBEBEB" stroke-width="0.53"/><line x1="544.17" y1="343.58" x2="644.5" y2="343.58" stroke="#EBEBEB" stroke-width="1.07"/><line x1="544.17" y1="318.97" x2="644.5" y2="318.97" stroke="#EBEBEB" stroke-width="0.53"/><line x1="544.17" y1="294.36" x2="644.5" y2="294.36" stroke="#EBEBEB" stroke-width="1.07"/><line x1="544.17" y1="269.75" x2="644.5" y2="269.75" stroke="#EBEBEB" stroke-width="0.53"/><line x1="544.17" y1="245.14" x2="644.5" y2="245.14" stroke="#EBEBEB" stroke-width="1.07"/>
<g mask="url(#c25)"><rect x="547.73" y="244.14" width="93.21" height="100.44" fill="#0B0405"/>
<path d="M641.31 243.66 547.36 243.66 547.36 345.05 633.7 345.05 633.7 343.58 639.94 324.89 641.31 324.89Z" fill="#2E1E3C" fill-rule="evenodd"/>
<path d="M635.45 243.66 547.36 243.66 547.36 345.05 611.94 345.05 612.66 339.48 614.86 331.5 628.98 296 632.35 286.16 634.62 277.91 636.12 269.75 636.72 261.55 636.51 253.34Z" fill="#413D7B" fill-rule="evenodd"/>
<path d="M613.55 243.66 557.44 243.66 557.44 245.14 548.73 252.3 547.36 252.3 547.36 345.05 598.4 345.05 599.28 337.84 601.66 327.17 613.41 286.98 616.62 272.21 617.32 264.83 617.09 257.44 616.06 251.7 613.55 245.14Z" fill="#37659E" fill-rule="evenodd"/>
<path d="M587.49 259.33 583.69 258.13 579.89 257.88 576.09 258.34 571.53 259.7 564.69 263.19 550.25 273.88 548.73 274.75 547.36 274.75 547.36 345.05 587.16 345.05 589.01 327.99 594.96 286.16 595.73 276.31 595.25 270.57 593.73 265.65 591.29 262.09Z" fill="#348FA7" fill-rule="evenodd"/>
<path d="M566.21 292.43 563.17 291.82 559.37 291.88 548.73 294.14 547.36 294.14 547.36 345.05 575.11 345.05 576.66 334.55 577.24 326.35 577.15 316.51 576.27 308.3 574.61 301.74 572.62 297.64 569.75 294.36Z" fill="#40B7AD" fill-rule="evenodd"/>
<path d="M547.36 318.01 547.36 345.05 556.85 345.05 556.85 343.58 559.94 337.84 561.11 333.73 561.36 329.63 560.51 325.53 558.61 322.07 555.88 319.79 552.53 318.52Z" fill="#8AD9B1" fill-rule="evenodd"/>
</g>
<g clip-path="url(#p25)" stroke="#FF0000" stroke-width="1.7" stroke-dasharray="5.9 5.9"><line x1="594.33" y1="348.5" x2="594.33" y2="240.22"/><line x1="544.17" y1="294.36" x2="644.5" y2="294.36"/></g>
<line x1="47.06" y1="348.5" x2="47.06" y2="456.78" stroke="#EBEBEB" stroke-width="1.07"/><line x1="69.86" y1="348.5" x2="69.86" y2="456.78" stroke="#EBEBEB" stroke-width="0.53"/><line x1="92.67" y1="348.5" x2="92.67" y2="456.78" stroke="#EBEBEB" stroke-width="1.07"/><line x1="115.47" y1="348.5" x2="115.47" y2="456.78" stroke="#EBEBEB" stroke-width="0.53"/><line x1="138.27" y1="348.5" x2="138.27" y2="456.78" stroke="#EBEBEB" stroke-width="0.53"/><line x1="42.5" y1="451.86" x2="142.83" y2="451.86" stroke="#EBEBEB" stroke-width="1.07"/><line x1="42.5" y1="427.25" x2="142.83" y2="427.25" stroke="#EBEBEB" stroke-width="0.53"/><line x1="42.5" y1="402.64" x2="142.83" y2="402.64" stroke="#EBEBEB" stroke-width="1.07"/><line x1="42.5" y1="378.03" x2="142.83" y2="378.03" stroke="#EBEBEB" stroke-width="0.53"/><line x1="42.5" y1="353.42" x2="142.83" y2="353.42" stroke="#EBEBEB" stroke-width="1.07"/>
<g mask="url(#c30)"><rect x="46.06" y="352.42" width="93.21" height="100.44" fill="#0B0405"/>
<path d="M139.64 351.95 45.69 351.95 45.69 453.34 139.64 453.34Z" fill="#2E1E3C" fill-rule="evenodd"/>
<path d="M139.64 351.95 45.69 351.95 45.69 430.28 47.06 430.28 49.95 435.45 54.66 440.8 68.04 451.86 68.04 453.34 139.64 453.34Z" fill="#413D7B" fill-rule="evenodd"/>
<path d="M139.64 351.95 50.13 351.95 49.15 364.09 49.11 372.29 50.25 382.13 52.2 390.34 55.71 400.18 60.71 409.2 65.3 415.52 72.9 423.63 80.51 429.56 88.87 434.38 101.03 439.96 111.67 444.05 117.75 445.96 123.83 447.05 129.15 446.85 133.71 445.08 138.27 441.28 139.64 441.28Z" fill="#37659E" fill-rule="evenodd"/>
<path d="M139.64 351.95 66.05 351.95 66.05 353.42 63.56 361.63 62.26 367.42 61.56 373.11 61.47 378.85 62.19 384.59 63.62 390.34 65.35 394.44 68.34 399.54 72.9 405.1 78.98 410.42 85.83 414.75 92.67 417.61 98.75 418.96 104.83 419 110.91 417.54 116.23 414.8 121.55 410.43 125.71 405.92 131.42 397.72 138.27 385.58 139.64 385.58Z" fill="#348FA7" fill-rule="evenodd"/>
<path d="M124.88 351.95 82.75 351.95 82.75 353.42 79.39 359.98 77.16 365.73 75.99 370.65 75.47 375.57 75.86 380.49 76.97 384.59 78.98 388.7 81.48 391.98 85.07 395.22 88.87 397.55 93.43 399.31 97.99 400.07 102.55 399.82 106.35 398.73 110.15 396.84 113.95 393.97 117.75 389.97 120.44 386.24 123.45 380.49 125.35 375.34 126.3 370.65 126.66 365.73 126.21 359.98Z" fill="#40B7AD" fill-rule="evenodd"/>
</g>
<g clip-path="url(#p30)" stroke="#FF0000" stroke-width="1.7" stroke-dasharray="5.9 5.9"><line x1="92.67" y1="456.78" x2="92.67" y2="348.5"/><line x1="42.5" y1="402.64" x2="142.83" y2="402.64"/></g>
<line x1="147.39" y1="348.5" x2="147.39" y2="456.78" stroke="#EBEBEB" stroke-width="1.07"/><line x1="170.2" y1="348.5" x2="170.2" y2="456.78" stroke="#EBEBEB" stroke-width="0.53"/><line x1="193" y1="348.5" x2="193" y2="456.78" stroke="#EBEBEB" stroke-width="1.07"/><line x1="215.8" y1="348.5" x2="215.8" y2="456.78" stroke="#EBEBEB" stroke-width="0.53"/><line x1="238.61" y1="348.5" x2="238.61" y2="456.78" stroke="#EBEBEB" stroke-width="0.53"/><line x1="142.83" y1="451.86" x2="243.17" y2="451.86" stroke="#EBEBEB" stroke-width="1.07"/><line x1="142.83" y1="427.25" x2="243.17" y2="427.25" stroke="#EBEBEB" stroke-width="0.53"/><line x1="142.83" y1="402.64" x2="243.17" y2="402.64" stroke="#EBEBEB" stroke-width="1.07"/><line x1="142.83" y1="378.03" x2="243.17" y2="378.03" stroke="#EBEBEB" stroke-width="0.53"/><line x1="142.83" y1="353.42" x2="243.17" y2="353.42" stroke="#EBEBEB" stroke-width="1.07"/>
<g mask="url(#c31)"><rect x="146.39" y="352.42" width="93.21" height="100.44" fill="#0B0405"/>
<path d="M239.97 351.95 146.03 351.95 146.03 453.34 239.97 453.34Z" fill="#2E1E3C" fill-rule="evenodd"/>
<path d="M239.97 351.95 146.03 351.95 146.03 453.34 239.97 453.34Z" fill="#413D7B" fill-rule="evenodd"/>
<path d="M239.97 351.95 149.8 351.95 149.8 353.42 147.39 358.69 146.03 358.69 146.03 421.98 147.39 421.98 152.69 428.89 158.04 433.05 164.12 435.68 171.72 437.19 183.12 437.71 210.48 437.05 215.04 436.37 219.6 435.17 222.82 433.81 226.44 431.53 229.45 428.89 231.77 426 234.7 420.69 238.61 411.73 239.97 411.73Z" fill="#37659E" fill-rule="evenodd"/>
<path d="M235.17 351.95 167.13 351.95 167.13 353.42 162.97 363.27 161.06 369.01 159.85 374.75 159.32 380.49 159.65 387.06 160.89 392.8 162.82 397.72 165.8 402.64 170.2 407.47 175.52 411.27 181.6 414.11 188.44 415.82 195.28 416.33 201.36 415.64 207.44 413.63 212.76 410.56 217.32 406.63 222.71 400.18 227.28 392.8 231.14 384.59 233.44 377.21 234.71 370.65 235.3 361.63Z" fill="#348FA7" fill-rule="evenodd"/>
<path d="M214.24 351.95 188.42 351.95 188.42 353.42 183.88 358.42 180.4 364.09 178.28 369.83 177.44 374.75 177.73 379.67 179.21 384.59 181.74 388.7 185.2 391.98 188.44 393.82 192.24 394.98 196.04 395.24 199.84 394.67 203.64 393.3 207.3 391.16 210.48 388.51 213.18 385.41 215.73 381.31 217.55 377.21 218.63 373.11 219.12 368.19 218.97 364.91 218.08 360.87 216.4 356.7 214.24 353.42Z" fill="#40B7AD" fill-rule="evenodd"/>
</g>
<g clip-path="url(#p31)" stroke="#FF0000" stroke-width="1.7" stroke-dasharray="5.9 5.9"><line x1="193" y1="456.78" x2="193" y2="348.5"/><line x1="142.83" y1="402.64" x2="243.17" y2="402.64"/></g>
<line x1="247.73" y1="348.5" x2="247.73" y2="456.78" stroke="#EBEBEB" stroke-width="1.07"/><line x1="270.53" y1="348.5" x2="270.53" y2="456.78" stroke="#EBEBEB" stroke-width="0.53"/><line x1="293.33" y1="348.5" x2="293.33" y2="456.78" stroke="#EBEBEB" stroke-width="1.07"/><line x1="316.14" y1="348.5" x2="316.14" y2="456.78" stroke="#EBEBEB" stroke-width="0.53"/><line x1="338.94" y1="348.5" x2="338.94" y2="456.78" stroke="#EBEBEB" stroke-width="0.53"/><line x1="243.17" y1="451.86" x2="343.5" y2="451.86" stroke="#EBEBEB" stroke-width="1.07"/><line x1="243.17" y1="427.25" x2="343.5" y2="427.25" stroke="#EBEBEB" stroke-width="0.53"/><line x1="243.17" y1="402.64" x2="343.5" y2="402.64" stroke="#EBEBEB" stroke-width="1.07"/><line x1="243.17" y1="378.03" x2="343.5" y2="378.03" stroke="#EBEBEB" stroke-width="0.53"/><line x1="243.17" y1="353.42" x2="343.5" y2="353.42" stroke="#EBEBEB" stroke-width="1.07"/>
<g mask="url(#c32)"><rect x="246.73" y="352.42" width="93.21" height="100.44" fill="#0B0405"/>
<path d="M340.31 351.95 246.36 351.95 246.36 453.34 340.31 453.34Z" fill="#2E1E3C" fill-rule="evenodd"/>
<path d="M340.31 351.95 246.36 351.95 246.36 453.34 340.31 453.34Z" fill="#413D7B" fill-rule="evenodd"/>
<path d="M340.31 351.95 256.44 351.95 256.44 353.42 247.73 370.73 246.36 370.73 246.36 449.97 247.73 449.97 250.91 451.86 250.91 453.34 276.41 453.34 276.41 451.86 283.45 447.9 310.06 430.09 316.14 425.34 322.22 419.71 326.02 415.34 329.87 410.02 338.94 394.16 340.31 394.16Z" fill="#37659E" fill-rule="evenodd"/>
<path d="M328 351.95 274.35 351.95 274.35 353.42 268.54 363.27 264.9 371.47 262.47 378.85 260.89 387.06 260.27 396.08 260.89 403.46 262.89 410.02 265.97 414.6 269.77 417.14 274.33 418.26 279.65 417.97 285.73 416.55 294.09 413.44 301.69 409.6 308.43 405.1 313.86 400.31 318.15 395.26 321.88 389.52 324.63 383.77 326.96 377.21 328.45 370.65 329.01 364.91 328.88 359.16Z" fill="#348FA7" fill-rule="evenodd"/>
<path d="M303.21 363.53 299.41 362.49 295.61 363.21 292.57 364.95 289.53 368.48 287.58 373.11 287.34 377.21 287.94 379.67 288.77 381.25 291.05 383.39 294.85 384.48 298.65 383.93 302.45 381.83 305.49 378.46 307.28 373.93 307.36 369.83 306.18 366.55 304.73 364.69Z" fill="#40B7AD" fill-rule="evenodd"/>
</g>
<g clip-path="url(#p32)" stroke="#FF0000" stroke-width="1.7" stroke-dasharray="5.9 5.9"><line x1="293.33" y1="456.78" x2="293.33" y2="348.5"/><line x1="243.17" y1="402.64" x2="343.5" y2="402.64"/></g>
<line x1="348.06" y1="348.5" x2="348.06" y2="456.78" stroke="#EBEBEB" stroke-width="1.07"/><line x1="370.86" y1="348.5" x2="370.86" y2="456.78" stroke="#EBEBEB" stroke-width="0.53"/><line x1="393.67" y1="348.5" x2="393.67" y2="456.78" stroke="#EBEBEB" stroke-width="1.07"/><line x1="416.47" y1="348.5" x2="416.47" y2="456.78" stroke="#EBEBEB" stroke-width="0.53"/><line x1="439.27" y1="348.5" x2="439.27" y2="456.78" stroke="#EBEBEB" stroke-width="0.53"/><line x1="343.5" y1="451.86" x2="443.83" y2="451.86" stroke="#EBEBEB" stroke-width="1.07"/><line x1="343.5" y1="427.25" x2="443.83" y2="427.25" stroke="#EBEBEB" stroke-width="0.53"/><line x1="343.5" y1="402.64" x2="443.83" y2="402.64" stroke="#EBEBEB" stroke-width="1.07"/><line x1="343.5" y1="378.03" x2="443.83" y2="378.03" stroke="#EBEBEB" stroke-width="0.53"/><line x1="343.5" y1="353.42" x2="443.83" y2="353.42" stroke="#EBEBEB" stroke-width="1.07"/>
<g mask="url(#c33)"><rect x="347.06" y="352.42" width="93.21" height="100.44" fill="#0B0405"/>
<path d="M440.64 351.95 346.69 351.95 346.69 453.34 440.64 453.34Z" fill="#2E1E3C" fill-rule="evenodd"/>
<path d="M440.64 351.95 346.69 351.95 346.69 453.34 427.94 453.34 427.94 451.86 439.27 437.02 440.64 437.02Z" fill="#413D7B" fill-rule="evenodd"/>
<path d="M440.64 351.95 359.67 351.95 359.67 353.42 349.58 371.2 348.06 373.53 346.69 373.53 346.69 453.34 390.74 453.34 390.74 451.86 397.73 442.02 404.31 434.6 427.11 411.43 433.28 403.46 439.27 392.67 440.64 392.67Z" fill="#37659E" fill-rule="evenodd"/>
<path d="M419.82 351.95 383.18 351.95 383.18 353.42 375.5 362.45 368.58 374.02 358.96 396.9 354.67 405.92 348.06 417.24 346.69 417.24 346.69 453.34 363.96 453.34 363.96 451.86 367.82 448.08 371.62 443.25 376.18 436.42 385.14 421.51 388.63 416.59 393.74 410.84 406.59 398.82 412.3 391.98 415.49 387.06 417.94 382.13 419.84 377.21 421.1 372.29 421.77 367.37 421.83 362.45 421.15 357.52 419.82 353.42Z" fill="#348FA7" fill-rule="evenodd"/>
</g>
<g clip-path="url(#p33)" stroke="#FF0000" stroke-width="1.7" stroke-dasharray="5.9 5.9"><line x1="393.67" y1="456.78" x2="393.67" y2="348.5"/><line x1="343.5" y1="402.64" x2="443.83" y2="402.64"/></g>
<line x1="448.39" y1="348.5" x2="448.39" y2="456.78" stroke="#EBEBEB" stroke-width="1.07"/><line x1="471.2" y1="348.5" x2="471.2" y2="456.78" stroke="#EBEBEB" stroke-width="0.53"/><line x1="494" y1="348.5" x2="494" y2="456.78" stroke="#EBEBEB" stroke-width="1.07"/><line x1="516.8" y1="348.5" x2="516.8" y2="456.78" stroke="#EBEBEB" stroke-width="0.53"/><line x1="539.61" y1="348.5" x2="539.61" y2="456.78" stroke="#EBEBEB" stroke-width="0.53"/><line x1="443.83" y1="451.86" x2="544.17" y2="451.86" stroke="#EBEBEB" stroke-width="1.07"/><line x1="443.83" y1="427.25" x2="544.17" y2="427.25" stroke="#EBEBEB" stroke-width="0.53"/><line x1="443.83" y1="402.64" x2="544.17" y2="402.64" stroke="#EBEBEB" stroke-width="1.07"/><line x1="443.83" y1="378.03" x2="544.17" y2="378.03" stroke="#EBEBEB" stroke-width="0.53"/><line x1="443.83" y1="353.42" x2="544.17" y2="353.42" stroke="#EBEBEB" stroke-width="1.07"/>
<g mask="url(#c34)"><rect x="447.39" y="352.42" width="93.21" height="100.44" fill="#0B0405"/>
<path d="M540.97 351.95 447.03 351.95 447.03 453.34 540.97 453.34Z" fill="#2E1E3C" fill-rule="evenodd"/>
<path d="M540.97 351.95 447.03 351.95 447.03 453.34 515.51 453.34 515.51 451.86 518.18 446.12 532.73 419.87 539.61 406.48 540.97 406.48Z" fill="#413D7B" fill-rule="evenodd"/>
<path d="M531.14 351.95 461.44 351.95 461.44 353.42 451.43 366.65 448.39 370.15 447.03 370.15 447.03 453.34 494.62 453.34 494.76 451.35 497.17 444.48 503.88 430.05 513.08 412.49 525.07 392.8 529.17 383.77 531.26 376.39 532.32 369.01 532.33 361.63Z" fill="#37659E" fill-rule="evenodd"/>
<path d="M503.12 359.8 500.84 358.68 497.8 357.85 492.48 357.8 485.64 359.73 479.56 363.14 474.24 367.4 470.44 371.37 451.61 395.26 448.39 398.29 447.03 398.29 447.03 453.34 479.14 453.34 479.14 451.86 485.96 423.97 489.69 411.67 494.46 402.64 502.36 391.91 506.06 386.24 508.08 382.13 509.46 378.03 510.05 372.29 509.19 367.37 506.92 363.21Z" fill="#348FA7" fill-rule="evenodd"/>
<path d="M458.28 431.23 455.99 430.44 453.71 430.51 451.15 431.35 448.39 433.06 447.03 433.06 447.03 450.2 451.43 450.13 455.23 449.09 458.28 447.04 460.28 444.48 461.57 441.2 461.75 437.1 460.56 433.55Z" fill="#40B7AD" fill-rule="evenodd"/>
</g>
<g clip-path="url(#p34)" stroke="#FF0000" stroke-width="1.7" stroke-dasharray="5.9 5.9"><line x1="494" y1="456.78" x2="494" y2="348.5"/><line x1="443.83" y1="402.64" x2="544.17" y2="402.64"/></g>
<line x1="548.73" y1="348.5" x2="548.73" y2="456.78" stroke="#EBEBEB" stroke-width="1.07"/><line x1="571.53" y1="348.5" x2="571.53" y2="456.78" stroke="#EBEBEB" stroke-width="0.53"/><line x1="594.33" y1="348.5" x2="594.33" y2="456.78" stroke="#EBEBEB" stroke-width="1.07"/><line x1="617.14" y1="348.5" x2="617.14" y2="456.78" stroke="#EBEBEB" stroke-width="0.53"/><line x1="639.94" y1="348.5" x2="639.94" y2="456.78" stroke="#EBEBEB" stroke-width="0.53"/><line x1="544.17" y1="451.86" x2="644.5" y2="451.86" stroke="#EBEBEB" stroke-width="1.07"/><line x1="544.17" y1="427.25" x2="644.5" y2="427.25" stroke="#EBEBEB" stroke-width="0.53"/><line x1="544.17" y1="402.64" x2="644.5" y2="402.64" stroke="#EBEBEB" stroke-width="1.07"/><line x1="544.17" y1="378.03" x2="644.5" y2="378.03" stroke="#EBEBEB" stroke-width="0.53"/><line x1="544.17" y1="353.42" x2="644.5" y2="353.42" stroke="#EBEBEB" stroke-width="1.07"/>
<g mask="url(#c35)"><rect x="547.73" y="352.42" width="93.21" height="100.44" fill="#0B0405"/>
<path d="M641.31 351.95 547.36 351.95 547.36 453.34 641.31 453.34Z" fill="#2E1E3C" fill-rule="evenodd"/>
<path d="M641.31 351.95 547.36 351.95 547.36 453.34 613.31 453.34 613.74 449.4 615.12 445.3 630.06 412.88 639.94 392.95 641.31 392.95Z" fill="#413D7B" fill-rule="evenodd"/>
<path d="M621.75 351.95 565.91 351.95 565.91 353.42 548.73 369.53 547.36 369.53 547.36 453.34 597.1 453.34 597.46 449.4 598.89 443.11 605.86 421.51 610.05 410.84 619.45 390.34 623.18 378.85 624.42 371.47 624.55 364.91 623.89 359.98 621.75 353.42Z" fill="#37659E" fill-rule="evenodd"/>
<path d="M590.53 373.03 587.49 372.01 584.45 371.99 580.65 372.88 576.09 374.77 566.97 380.44 551.44 392.8 548.73 394.5 547.36 394.5 547.36 453.34 584.67 453.34 589.78 408.38 594.41 383.77 594.46 380.49 593.82 377.21 592.47 374.75Z" fill="#348FA7" fill-rule="evenodd"/>
<path d="M563.17 416.18 560.13 415.33 557.09 415.27 553.7 415.77 548.73 417.16 547.36 417.16 547.36 453.34 570.84 453.34 572.08 438.74 571.8 432.99 571.06 428.07 569.84 423.97 567.73 419.98 565.45 417.56Z" fill="#40B7AD" fill-rule="evenodd"/>
</g>
<g clip-path="url(#p35)" stroke="#FF0000" stroke-width="1.7" stroke-dasharray="5.9 5.9"><line x1="594.33" y1="456.78" x2="594.33" y2="348.5"/><line x1="544.17" y1="402.64" x2="644.5" y2="402.64"/></g>
<line x1="47.06" y1="456.78" x2="47.06" y2="565.07" stroke="#EBEBEB" stroke-width="1.07"/><line x1="69.86" y1="456.78" x2="69.86" y2="565.07" stroke="#EBEBEB" stroke-width="0.53"/><line x1="92.67" y1="456.78" x2="92.67" y2="565.07" stroke="#EBEBEB" stroke-width="1.07"/><line x1="115.47" y1="456.78" x2="115.47" y2="565.07" stroke="#EBEBEB" stroke-width="0.53"/><line x1="138.27" y1="456.78" x2="138.27" y2="565.07" stroke="#EBEBEB" stroke-width="0.53"/><line x1="42.5" y1="560.14" x2="142.83" y2="560.14" stroke="#EBEBEB" stroke-width="1.07"/><line x1="42.5" y1="535.53" x2="142.83" y2="535.53" stroke="#EBEBEB" stroke-width="0.53"/><line x1="42.5" y1="510.93" x2="142.83" y2="510.93" stroke="#EBEBEB" stroke-width="1.07"/><line x1="42.5" y1="486.32" x2="142.83" y2="486.32" stroke="#EBEBEB" stroke-width="0.53"/><line x1="42.5" y1="461.71" x2="142.83" y2="461.71" stroke="#EBEBEB" stroke-width="1.07"/>
<g mask="url(#c40)"><rect x="46.06" y="460.71" width="93.21" height="100.44" fill="#0B0405"/>
<path d="M139.64 460.23 45.69 460.23 45.69 561.62 139.64 561.62Z" fill="#2E1E3C" fill-rule="evenodd"/>
<path d="M139.64 460.23 57.01 460.23 53.97 483.85 53.92 492.06 54.76 500.26 56.54 509.28 60.15 522.41 71.02 553.58 72.07 558.5 72.21 561.62 139.64 561.62Z" fill="#413D7B" fill-rule="evenodd"/>
<path d="M139.64 460.23 72.76 460.23 70.55 473.19 69.72 481.39 69.78 489.6 70.69 496.98 72.35 504.36 74.9 512.57 84.64 537.18 87.83 546.2 90.25 555.22 91.08 561.62 139.64 561.62Z" fill="#37659E" fill-rule="evenodd"/>
<path d="M128.04 460.23 90.88 460.23 90.88 461.71 88.57 466.63 86.92 472.37 86.23 477.29 85.99 483.03 86.33 487.96 87.19 492.88 89.44 500.26 96.82 517.49 99.89 526.51 103.68 544.56 106.05 561.62 139.64 561.62 139.64 498.06 138.27 498.06 134.45 478.93 129.91 465.62 128.04 461.71Z" fill="#348FA7" fill-rule="evenodd"/>
<path d="M139.64 540.39 136.75 540.81 132.19 542.47 129.28 544.56 127.63 546.66 126.41 549.48 125.91 551.94 126.27 561.62 139.64 561.62Z" fill="#40B7AD" fill-rule="evenodd"/>
</g>
<g clip-path="url(#p40)" stroke="#FF0000" stroke-width="1.7" stroke-dasharray="5.9 5.9"><line x1="92.67" y1="565.07" x2="92.67" y2="456.78"/><line x1="42.5" y1="510.93" x2="142.83" y2="510.93"/></g>
<line x1="147.39" y1="456.78" x2="147.39" y2="565.07" stroke="#EBEBEB" stroke-width="1.07"/><line x1="170.2" y1="456.78" x2="170.2" y2="565.07" stroke="#EBEBEB" stroke-width="0.53"/><line x1="193" y1="456.78" x2="193" y2="565.07" stroke="#EBEBEB" stroke-width="1.07"/><line x1="215.8" y1="456.78" x2="215.8" y2="565.07" stroke="#EBEBEB" stroke-width="0.53"/><line x1="238.61" y1="456.78" x2="238.61" y2="565.07" stroke="#EBEBEB" stroke-width="0.53"/><line x1="142.83" y1="560.14" x2="243.17" y2="560.14" stroke="#EBEBEB" stroke-width="1.07"/><line x1="142.83" y1="535.53" x2="243.17" y2="535.53" stroke="#EBEBEB" stroke-width="0.53"/><line x1="142.83" y1="510.93" x2="243.17" y2="510.93" stroke="#EBEBEB" stroke-width="1.07"/><line x1="142.83" y1="486.32" x2="243.17" y2="486.32" stroke="#EBEBEB" stroke-width="0.53"/><line x1="142.83" y1="461.71" x2="243.17" y2="461.71" stroke="#EBEBEB" stroke-width="1.07"/>
<g mask="url(#c41)"><rect x="146.39" y="460.71" width="93.21" height="100.44" fill="#0B0405"/>
<path d="M239.97 460.23 146.03 460.23 146.03 561.62 239.97 561.62Z" fill="#2E1E3C" fill-rule="evenodd"/>
<path d="M239.97 460.23 151.48 460.23 151.48 461.71 147.39 473.42 146.03 473.42 146.03 547.36 147.39 547.36 151.42 560.14 151.42 561.62 239.97 561.62Z" fill="#413D7B" fill-rule="evenodd"/>
<path d="M239.97 460.23 170.9 460.23 170.9 461.71 167.3 475.65 166.05 484.67 165.91 496.16 167.4 506.82 169.28 513.39 172.04 519.95 191.3 553.58 193.74 559.32 193.99 561.62 239.97 561.62Z" fill="#37659E" fill-rule="evenodd"/>
<path d="M190.89 460.23 190.89 461.71 189.16 464.99 187.28 469.91 185.87 476.47 185.54 484.67 186.85 492.88 188.91 498.62 192.24 504.26 196.04 508.87 205.38 518.31 207.74 521.59 209.44 524.87 211.12 530.61 213.73 547.84 215.39 554.4 217.4 560.14 217.4 561.62 239.97 561.62 239.97 530.7 238.61 530.7 237.48 529.79 232.13 524.05 229.54 519.13 227.96 512.57 227.6 507.64 227.69 499.44 229.34 472.37 228.94 467.45 227.56 461.71 227.56 460.23Z" fill="#348FA7" fill-rule="evenodd"/>
</g>
<g clip-path="url(#p41)" stroke="#FF0000" stroke-width="1.7" stroke-dasharray="5.9 5.9"><line x1="193" y1="565.07" x2="193" y2="456.78"/><line x1="142.83" y1="510.93" x2="243.17" y2="510.93"/></g>
<line x1="247.73" y1="456.78" x2="247.73" y2="565.07" stroke="#EBEBEB" stroke-width="1.07"/><line x1="270.53" y1="456.78" x2="270.53" y2="565.07" stroke="#EBEBEB" stroke-width="0.53"/><line x1="293.33" y1="456.78" x2="293.33" y2="565.07" stroke="#EBEBEB" stroke-width="1.07"/><line x1="316.14" y1="456.78" x2="316.14" y2="565.07" stroke="#EBEBEB" stroke-width="0.53"/><line x1="338.94" y1="456.78" x2="338.94" y2="565.07" stroke="#EBEBEB" stroke-width="0.53"/><line x1="243.17" y1="560.14" x2="343.5" y2="560.14" stroke="#EBEBEB" stroke-width="1.07"/><line x1="243.17" y1="535.53" x2="343.5" y2="535.53" stroke="#EBEBEB" stroke-width="0.53"/><line x1="243.17" y1="510.93" x2="343.5" y2="510.93" stroke="#EBEBEB" stroke-width="1.07"/><line x1="243.17" y1="486.32" x2="343.5" y2="486.32" stroke="#EBEBEB" stroke-width="0.53"/><line x1="243.17" y1="461.71" x2="343.5" y2="461.71" stroke="#EBEBEB" stroke-width="1.07"/>
<g mask="url(#c42)"><rect x="246.73" y="460.71" width="93.21" height="100.44" fill="#0B0405"/>
<path d="M340.31 460.23 246.36 460.23 246.36 561.62 340.31 561.62Z" fill="#2E1E3C" fill-rule="evenodd"/>
<path d="M340.31 460.23 253.44 460.23 253.44 461.71 247.73 478.27 246.36 478.27 246.36 561.62 340.31 561.62Z" fill="#413D7B" fill-rule="evenodd"/>
<path d="M340.31 460.23 274.09 460.23 274.09 461.71 270.11 472.37 267.49 482.21 264.32 504.36 262.34 512.57 259.42 520.77 252.33 535.53 250.28 541.28 249.77 544.56 249.93 547.84 250.77 550.36 252.51 552.76 255.33 554.41 259.13 555.01 272.05 552.31 277.37 552.36 281.93 553.8 295.72 560.14 295.72 561.62 340.31 561.62Z" fill="#37659E" fill-rule="evenodd"/>
<path d="M320.08 460.23 301.59 460.23 301.59 461.71 297.13 466.38 294.12 471.55 292.57 475.82 291.71 480.57 291.67 484.67 292.34 488.78 293.78 492.88 295.66 496.16 298.65 499.29 301.69 501.16 303.97 501.92 307.02 502.19 310.06 501.71 313.1 500.48 316.14 498.38 318.42 496.15 320.7 493.05 322.5 489.6 324.01 485.49 324.67 482.21 324.78 474.01 323.29 467.45 321.85 464.17 320.08 461.71Z" fill="#348FA7" fill-rule="evenodd"/>
</g>
<g clip-path="url(#p42)" stroke="#FF0000" stroke-width="1.7" stroke-dasharray="5.9 5.9"><line x1="293.33" y1="565.07" x2="293.33" y2="456.78"/><line x1="243.17" y1="510.93" x2="343.5" y2="510.93"/></g>
<line x1="348.06" y1="456.78" x2="348.06" y2="565.07" stroke="#EBEBEB" stroke-width="1.07"/><line x1="370.86" y1="456.78" x2="370.86" y2="565.07" stroke="#EBEBEB" stroke-width="0.53"/><line x1="393.67" y1="456.78" x2="393.67" y2="565.07" stroke="#EBEBEB" stroke-width="1.07"/><line x1="416.47" y1="456.78" x2="416.47" y2="565.07" stroke="#EBEBEB" stroke-width="0.53"/><line x1="439.27" y1="456.78" x2="439.27" y2="565.07" stroke="#EBEBEB" stroke-width="0.53"/><line x1="343.5" y1="560.14" x2="443.83" y2="560.14" stroke="#EBEBEB" stroke-width="1.07"/><line x1="343.5" y1="535.53" x2="443.83" y2="535.53" stroke="#EBEBEB" stroke-width="0.53"/><line x1="343.5" y1="510.93" x2="443.83" y2="510.93" stroke="#EBEBEB" stroke-width="1.07"/><line x1="343.5" y1="486.32" x2="443.83" y2="486.32" stroke="#EBEBEB" stroke-width="0.53"/><line x1="343.5" y1="461.71" x2="443.83" y2="461.71" stroke="#EBEBEB" stroke-width="1.07"/>
<g mask="url(#c43)"><rect x="347.06" y="460.71" width="93.21" height="100.44" fill="#0B0405"/>
<path d="M440.64 460.23 346.69 460.23 346.69 561.62 440.64 561.62Z" fill="#2E1E3C" fill-rule="evenodd"/>
<path d="M440.64 460.23 355.39 460.23 355.05 462.53 350.92 470.73 348.06 475 346.69 475 346.69 561.62 440.64 561.62Z" fill="#413D7B" fill-rule="evenodd"/>
<path d="M437.42 460.23 376.12 460.23 376.12 461.71 372.38 468.96 367.71 479.75 360.98 493.52 348.06 514.66 346.69 514.66 346.69 561.62 430.4 561.62 430.4 560.14 432.24 553.58 432.37 540.46 439.27 491.46 440.64 491.46 440.64 483.01 439.27 483.01 438.63 469.91Z" fill="#37659E" fill-rule="evenodd"/>
<path d="M408.87 468.86 406.59 468.5 404.31 468.72 402.03 469.5 399.75 470.84 395.98 474.83 393.55 479.75 392.7 484.67 392.87 487.96 393.44 490.42 394.53 492.88 395.95 494.79 397.53 496.16 399.75 497.28 402.03 497.69 404.31 497.53 406.59 496.82 408.87 495.51 412.67 491.88 414.19 489.45 415.46 486.32 416.29 480.57 415.91 477.29 415.14 474.83 412.67 471.08 411.15 469.88Z" fill="#348FA7" fill-rule="evenodd"/>
</g>
<g clip-path="url(#p43)" stroke="#FF0000" stroke-width="1.7" stroke-dasharray="5.9 5.9"><line x1="393.67" y1="565.07" x2="393.67" y2="456.78"/><line x1="343.5" y1="510.93" x2="443.83" y2="510.93"/></g>
<line x1="448.39" y1="456.78" x2="448.39" y2="565.07" stroke="#EBEBEB" stroke-width="1.07"/><line x1="471.2" y1="456.78" x2="471.2" y2="565.07" stroke="#EBEBEB" stroke-width="0.53"/><line x1="494" y1="456.78" x2="494" y2="565.07" stroke="#EBEBEB" stroke-width="1.07"/><line x1="516.8" y1="456.78" x2="516.8" y2="565.07" stroke="#EBEBEB" stroke-width="0.53"/><line x1="539.61" y1="456.78" x2="539.61" y2="565.07" stroke="#EBEBEB" stroke-width="0.53"/><line x1="443.83" y1="560.14" x2="544.17" y2="560.14" stroke="#EBEBEB" stroke-width="1.07"/><line x1="443.83" y1="535.53" x2="544.17" y2="535.53" stroke="#EBEBEB" stroke-width="0.53"/><line x1="443.83" y1="510.93" x2="544.17" y2="510.93" stroke="#EBEBEB" stroke-width="1.07"/><line x1="443.83" y1="486.32" x2="544.17" y2="486.32" stroke="#EBEBEB" stroke-width="0.53"/><line x1="443.83" y1="461.71" x2="544.17" y2="461.71" stroke="#EBEBEB" stroke-width="1.07"/>
<g mask="url(#c44)"><rect x="447.39" y="460.71" width="93.21" height="100.44" fill="#0B0405"/>
<path d="M540.97 460.23 447.03 460.23 447.03 561.62 540.97 561.62Z" fill="#2E1E3C" fill-rule="evenodd"/>
<path d="M540.97 460.23 447.03 460.23 447.03 561.62 540.97 561.62Z" fill="#413D7B" fill-rule="evenodd"/>
<path d="M532.61 460.23 475.57 460.23 475.57 461.71 471.2 467.09 455.43 488.78 449.91 494.74 448.39 495.88 447.03 495.88 447.03 561.62 499.22 561.62 499.78 556.86 501.78 549.48 509.2 531.06 515.5 517.49 520.6 508.3 528.07 496.16 532.03 487.14 533.73 480.57 534.42 474.01 534.17 468.27 532.61 461.71Z" fill="#37659E" fill-rule="evenodd"/>
<path d="M473.48 518.06 469.68 516.77 464.36 517.03 457.52 519.16 448.39 523.41 447.03 523.41 447.03 561.62 477.68 561.62 479.92 543.74 480.2 537.18 479.93 531.43 479.27 527.33 477.89 523.23 475.77 519.95Z" fill="#348FA7" fill-rule="evenodd"/>
</g>
<g clip-path="url(#p44)" stroke="#FF0000" stroke-width="1.7" stroke-dasharray="5.9 5.9"><line x1="494" y1="565.07" x2="494" y2="456.78"/><line x1="443.83" y1="510.93" x2="544.17" y2="510.93"/></g>
<line x1="548.73" y1="456.78" x2="548.73" y2="565.07" stroke="#EBEBEB" stroke-width="1.07"/><line x1="571.53" y1="456.78" x2="571.53" y2="565.07" stroke="#EBEBEB" stroke-width="0.53"/><line x1="594.33" y1="456.78" x2="594.33" y2="565.07" stroke="#EBEBEB" stroke-width="1.07"/><line x1="617.14" y1="456.78" x2="617.14" y2="565.07" stroke="#EBEBEB" stroke-width="0.53"/><line x1="639.94" y1="456.78" x2="639.94" y2="565.07" stroke="#EBEBEB" stroke-width="0.53"/><line x1="544.17" y1="560.14" x2="644.5" y2="560.14" stroke="#EBEBEB" stroke-width="1.07"/><line x1="544.17" y1="535.53" x2="644.5" y2="535.53" stroke="#EBEBEB" stroke-width="0.53"/><line x1="544.17" y1="510.93" x2="644.5" y2="510.93" stroke="#EBEBEB" stroke-width="1.07"/><line x1="544.17" y1="486.32" x2="644.5" y2="486.32" stroke="#EBEBEB" stroke-width="0.53"/><line x1="544.17" y1="461.71" x2="644.5" y2="461.71" stroke="#EBEBEB" stroke-width="1.07"/>
<g mask="url(#c45)"><rect x="547.73" y="460.71" width="93.21" height="100.44" fill="#0B0405"/>
<path d="M641.31 460.23 547.36 460.23 547.36 561.62 641.31 561.62Z" fill="#2E1E3C" fill-rule="evenodd"/>
<path d="M641.31 460.23 547.36 460.23 547.36 561.62 621.06 561.62 621.28 558.5 622.33 553.58 626.15 542.1 639.94 507.61 641.31 507.61Z" fill="#413D7B" fill-rule="evenodd"/>
<path d="M623.99 460.23 577.42 460.23 577.42 461.71 559.85 480.57 551.77 487.49 548.73 489.22 547.36 489.22 547.36 561.62 598.76 561.62 599.1 555.22 600.46 545.38 602.58 534.71 605.19 524.87 609.48 513.39 620.16 492.06 622.58 486.32 624.12 481.39 625.18 475.65 625.47 470.73 625.17 466.63 623.99 461.71Z" fill="#37659E" fill-rule="evenodd"/>
<path d="M574.57 509.19 570.77 507.83 565.45 507.47 560.13 508.16 549.49 510.54 547.36 510.69 547.36 561.62 584.15 561.62 584.77 539.64 584.43 532.25 583.6 525.69 582.17 519.8 580.15 515.03 577.61 511.55Z" fill="#348FA7" fill-rule="evenodd"/>
<path d="M560.13 532.83 554.81 531.52 547.36 531.69 547.36 561.62 569.15 561.62 569.35 550.3 568.04 542.92 566.72 539.64 564.69 536.45 562.41 534.22Z" fill="#40B7AD" fill-rule="evenodd"/>
</g>
<g clip-path="url(#p45)" stroke="#FF0000" stroke-width="1.7" stroke-dasharray="5.9 5.9"><line x1="594.33" y1="565.07" x2="594.33" y2="456.78"/><line x1="544.17" y1="510.93" x2="644.5" y2="510.93"/></g>
<line x1="47.06" y1="565.07" x2="47.06" y2="673.35" stroke="#EBEBEB" stroke-width="1.07"/><line x1="69.86" y1="565.07" x2="69.86" y2="673.35" stroke="#EBEBEB" stroke-width="0.53"/><line x1="92.67" y1="565.07" x2="92.67" y2="673.35" stroke="#EBEBEB" stroke-width="1.07"/><line x1="115.47" y1="565.07" x2="115.47" y2="673.35" stroke="#EBEBEB" stroke-width="0.53"/><line x1="138.27" y1="565.07" x2="138.27" y2="673.35" stroke="#EBEBEB" stroke-width="0.53"/><line x1="42.5" y1="668.43" x2="142.83" y2="668.43" stroke="#EBEBEB" stroke-width="1.07"/><line x1="42.5" y1="643.82" x2="142.83" y2="643.82" stroke="#EBEBEB" stroke-width="0.53"/><line x1="42.5" y1="619.21" x2="142.83" y2="619.21" stroke="#EBEBEB" stroke-width="1.07"/><line x1="42.5" y1="594.6" x2="142.83" y2="594.6" stroke="#EBEBEB" stroke-width="0.53"/><line x1="42.5" y1="569.99" x2="142.83" y2="569.99" stroke="#EBEBEB" stroke-width="1.07"/>
<g mask="url(#c50)"><rect x="46.06" y="568.99" width="93.21" height="100.44" fill="#0B0405"/>
<path d="M139.64 568.51 53.58 568.51 51.14 584.75 49.91 601.16 49.01 639.72 49.5 657.76 48.51 669.9 139.64 669.9Z" fill="#2E1E3C" fill-rule="evenodd"/>
<path d="M139.64 568.51 75.3 568.51 73.34 583.93 72.64 595.42 72.63 616.75 73.76 660.22 73.36 669.9 139.64 669.9Z" fill="#413D7B" fill-rule="evenodd"/>
<path d="M139.64 568.51 97.07 568.51 97.07 569.99 95.63 573.27 93.93 579.01 92.62 586.4 90.41 616.75 87.64 644.64 86.62 669.9 139.64 669.9Z" fill="#37659E" fill-rule="evenodd"/>
<path d="M139.64 608.85 135.23 608.96 126.11 607.06 122.31 607.11 119.27 608.13 116.99 609.62 114.71 611.78 112.43 614.72 109.39 619.87 104.84 629.05 100.42 641.36 97.99 653.66 96.93 669.9 139.64 669.9Z" fill="#348FA7" fill-rule="evenodd"/>
<path d="M139.64 628.14 129.91 628.78 125.35 629.92 120.03 633.1 115.96 637.26 111.82 643.82 108.88 651.2 107.32 659.4 106.77 669.9 139.64 669.9Z" fill="#40B7AD" fill-rule="evenodd"/>
<path d="M139.64 643.64 133.71 644.16 129.91 645.11 126.11 647.09 123.07 649.96 120.67 653.66 118.91 658.58 118.08 663.51 117.87 669.9 139.64 669.9Z" fill="#8AD9B1" fill-rule="evenodd"/>
</g>
<g clip-path="url(#p50)" stroke="#FF0000" stroke-width="1.7" stroke-dasharray="5.9 5.9"><line x1="92.67" y1="673.35" x2="92.67" y2="565.07"/><line x1="42.5" y1="619.21" x2="142.83" y2="619.21"/></g>
<line x1="147.39" y1="565.07" x2="147.39" y2="673.35" stroke="#EBEBEB" stroke-width="1.07"/><line x1="170.2" y1="565.07" x2="170.2" y2="673.35" stroke="#EBEBEB" stroke-width="0.53"/><line x1="193" y1="565.07" x2="193" y2="673.35" stroke="#EBEBEB" stroke-width="1.07"/><line x1="215.8" y1="565.07" x2="215.8" y2="673.35" stroke="#EBEBEB" stroke-width="0.53"/><line x1="238.61" y1="565.07" x2="238.61" y2="673.35" stroke="#EBEBEB" stroke-width="0.53"/><line x1="142.83" y1="668.43" x2="243.17" y2="668.43" stroke="#EBEBEB" stroke-width="1.07"/><line x1="142.83" y1="643.82" x2="243.17" y2="643.82" stroke="#EBEBEB" stroke-width="0.53"/><line x1="142.83" y1="619.21" x2="243.17" y2="619.21" stroke="#EBEBEB" stroke-width="1.07"/><line x1="142.83" y1="594.6" x2="243.17" y2="594.6" stroke="#EBEBEB" stroke-width="0.53"/><line x1="142.83" y1="569.99" x2="243.17" y2="569.99" stroke="#EBEBEB" stroke-width="1.07"/>
<g mask="url(#c51)"><rect x="146.39" y="568.99" width="93.21" height="100.44" fill="#0B0405"/>
<path d="M239.97 568.51 146.03 568.51 146.03 669.9 239.97 669.9Z" fill="#2E1E3C" fill-rule="evenodd"/>
<path d="M239.97 568.51 168.7 568.51 168.7 569.99 166.15 579.83 164.55 588.86 161.92 619.21 158.81 643 158.77 652.02 160.92 665.97 161.18 669.9 239.97 669.9Z" fill="#413D7B" fill-rule="evenodd"/>
<path d="M232.75 568.51 193.74 568.51 193.74 569.99 191.57 574.09 189.96 579.06 188.94 583.93 188.34 589.68 188.13 600.34 188.8 622.49 186.68 648.74 187.41 669.9 239.97 669.9 239.97 576.24 238.61 576.24 237.09 574.93 232.75 569.99Z" fill="#37659E" fill-rule="evenodd"/>
<path d="M239.97 619.87 227.96 619.51 221.88 620.4 218.84 621.75 216.56 623.27 211.24 628.79 206.68 636.63 204.83 641.36 203.45 646.28 202.21 655.3 201.87 669.9 239.97 669.9Z" fill="#348FA7" fill-rule="evenodd"/>
<path d="M239.97 640.45 233.29 641.1 229.24 642.18 224.92 644.49 221.88 647.39 219.4 651.2 217.39 656.94 216.52 662.69 216.18 669.9 239.97 669.9Z" fill="#40B7AD" fill-rule="evenodd"/>
</g>
<g clip-path="url(#p51)" stroke="#FF0000" stroke-width="1.7" stroke-dasharray="5.9 5.9"><line x1="193" y1="673.35" x2="193" y2="565.07"/><line x1="142.83" y1="619.21" x2="243.17" y2="619.21"/></g>
<line x1="247.73" y1="565.07" x2="247.73" y2="673.35" stroke="#EBEBEB" stroke-width="1.07"/><line x1="270.53" y1="565.07" x2="270.53" y2="673.35" stroke="#EBEBEB" stroke-width="0.53"/><line x1="293.33" y1="565.07" x2="293.33" y2="673.35" stroke="#EBEBEB" stroke-width="1.07"/><line x1="316.14" y1="565.07" x2="316.14" y2="673.35" stroke="#EBEBEB" stroke-width="0.53"/><line x1="338.94" y1="565.07" x2="338.94" y2="673.35" stroke="#EBEBEB" stroke-width="0.53"/><line x1="243.17" y1="668.43" x2="343.5" y2="668.43" stroke="#EBEBEB" stroke-width="1.07"/><line x1="243.17" y1="643.82" x2="343.5" y2="643.82" stroke="#EBEBEB" stroke-width="0.53"/><line x1="243.17" y1="619.21" x2="343.5" y2="619.21" stroke="#EBEBEB" stroke-width="1.07"/><line x1="243.17" y1="594.6" x2="343.5" y2="594.6" stroke="#EBEBEB" stroke-width="0.53"/><line x1="243.17" y1="569.99" x2="343.5" y2="569.99" stroke="#EBEBEB" stroke-width="1.07"/>
<g mask="url(#c52)"><rect x="246.73" y="568.99" width="93.21" height="100.44" fill="#0B0405"/>
<path d="M340.31 568.51 246.36 568.51 246.36 669.9 340.31 669.9Z" fill="#2E1E3C" fill-rule="evenodd"/>
<path d="M340.31 568.51 268.83 568.51 268.83 569.99 258.37 596.36 254.57 603.82 247.73 615.62 246.36 615.62 246.36 669.9 340.31 669.9Z" fill="#413D7B" fill-rule="evenodd"/>
<path d="M330.17 568.51 298.26 568.51 298.26 569.99 296.13 572.45 294.03 575.73 291.96 580.65 290.3 588.04 287.78 613.47 285.75 624.13 282.69 632.96 276.33 647.1 274.64 652.84 274.34 657.76 276.02 666.79 276.23 669.9 340.31 669.9 340.31 594.14 338.94 594.14 336.8 590.5 333.31 576.55 331.74 572.45 330.17 569.99Z" fill="#37659E" fill-rule="evenodd"/>
<path d="M340.31 634.51 329.82 633.73 324.5 634.2 319.18 636.32 315.05 639.72 311.55 644.64 309.07 651.2 308.06 658.58 307.77 669.9 340.31 669.9Z" fill="#348FA7" fill-rule="evenodd"/>
</g>
<g clip-path="url(#p52)" stroke="#FF0000" stroke-width="1.7" stroke-dasharray="5.9 5.9"><line x1="293.33" y1="673.35" x2="293.33" y2="565.07"/><line x1="243.17" y1="619.21" x2="343.5" y2="619.21"/></g>
<line x1="348.06" y1="565.07" x2="348.06" y2="673.35" stroke="#EBEBEB" stroke-width="1.07"/><line x1="370.86" y1="565.07" x2="370.86" y2="673.35" stroke="#EBEBEB" stroke-width="0.53"/><line x1="393.67" y1="565.07" x2="393.67" y2="673.35" stroke="#EBEBEB" stroke-width="1.07"/><line x1="416.47" y1="565.07" x2="416.47" y2="673.35" stroke="#EBEBEB" stroke-width="0.53"/><line x1="439.27" y1="565.07" x2="439.27" y2="673.35" stroke="#EBEBEB" stroke-width="0.53"/><line x1="343.5" y1="668.43" x2="443.83" y2="668.43" stroke="#EBEBEB" stroke-width="1.07"/><line x1="343.5" y1="643.82" x2="443.83" y2="643.82" stroke="#EBEBEB" stroke-width="0.53"/><line x1="343.5" y1="619.21" x2="443.83" y2="619.21" stroke="#EBEBEB" stroke-width="1.07"/><line x1="343.5" y1="594.6" x2="443.83" y2="594.6" stroke="#EBEBEB" stroke-width="0.53"/><line x1="343.5" y1="569.99" x2="443.83" y2="569.99" stroke="#EBEBEB" stroke-width="1.07"/>
<g mask="url(#c53)"><rect x="347.06" y="568.99" width="93.21" height="100.44" fill="#0B0405"/>
<path d="M440.64 568.51 346.69 568.51 346.69 669.9 440.64 669.9Z" fill="#2E1E3C" fill-rule="evenodd"/>
<path d="M440.64 568.51 367.25 568.51 367.25 569.99 364.78 575.18 356.05 591.32 352.64 596.24 348.06 601.16 346.69 601.16 346.69 669.9 440.64 669.9Z" fill="#413D7B" fill-rule="evenodd"/>
<path d="M429.37 568.51 393.97 568.51 393.97 569.99 390.63 574.57 387.78 579.83 379.74 601.98 377.32 606.9 374.66 611.06 370.86 615.53 366.3 619.59 353.42 628.23 348.06 632.44 346.69 632.44 346.69 669.9 440.64 669.9 440.64 618.94 439.27 618.94 436.5 610.18 431.85 585.57 430.94 575.73 429.37 569.99Z" fill="#37659E" fill-rule="evenodd"/>
</g>
<g clip-path="url(#p53)" stroke="#FF0000" stroke-width="1.7" stroke-dasharray="5.9 5.9"><line x1="393.67" y1="673.35" x2="393.67" y2="565.07"/><line x1="343.5" y1="619.21" x2="443.83" y2="619.21"/></g>
<line x1="448.39" y1="565.07" x2="448.39" y2="673.35" stroke="#EBEBEB" stroke-width="1.07"/><line x1="471.2" y1="565.07" x2="471.2" y2="673.35" stroke="#EBEBEB" stroke-width="0.53"/><line x1="494" y1="565.07" x2="494" y2="673.35" stroke="#EBEBEB" stroke-width="1.07"/><line x1="516.8" y1="565.07" x2="516.8" y2="673.35" stroke="#EBEBEB" stroke-width="0.53"/><line x1="539.61" y1="565.07" x2="539.61" y2="673.35" stroke="#EBEBEB" stroke-width="0.53"/><line x1="443.83" y1="668.43" x2="544.17" y2="668.43" stroke="#EBEBEB" stroke-width="1.07"/><line x1="443.83" y1="643.82" x2="544.17" y2="643.82" stroke="#EBEBEB" stroke-width="0.53"/><line x1="443.83" y1="619.21" x2="544.17" y2="619.21" stroke="#EBEBEB" stroke-width="1.07"/><line x1="443.83" y1="594.6" x2="544.17" y2="594.6" stroke="#EBEBEB" stroke-width="0.53"/><line x1="443.83" y1="569.99" x2="544.17" y2="569.99" stroke="#EBEBEB" stroke-width="1.07"/>
<g mask="url(#c54)"><rect x="447.39" y="568.99" width="93.21" height="100.44" fill="#0B0405"/>
<path d="M540.97 568.51 447.03 568.51 447.03 669.9 540.97 669.9Z" fill="#2E1E3C" fill-rule="evenodd"/>
<path d="M540.97 568.51 458.66 568.51 458.66 569.99 451.96 579.83 448.39 583.87 447.03 583.87 447.03 669.9 540.97 669.9Z" fill="#413D7B" fill-rule="evenodd"/>
<path d="M530.38 568.51 488 568.51 488 569.99 482.6 576.69 472.01 592.96 466.64 599.78 461.93 604.44 455.99 609.06 448.39 613.43 447.03 613.43 447.03 669.9 503.91 669.9 503.91 668.43 504.81 665.97 511.89 651.2 517.73 628.23 527.89 601.98 530.77 592.96 532.07 586.4 532.46 579.83 531.95 574.91 530.38 569.99Z" fill="#37659E" fill-rule="evenodd"/>
<path d="M471.2 637.3 466.64 635.01 461.32 634.17 455.99 634.68 448.39 636.97 447.03 636.97 447.03 669.9 476.5 669.9 478.05 656.94 477.78 649.56 476.79 645.46 475.37 642.18 473.48 639.41Z" fill="#348FA7" fill-rule="evenodd"/>
</g>
<g clip-path="url(#p54)" stroke="#FF0000" stroke-width="1.7" stroke-dasharray="5.9 5.9"><line x1="494" y1="673.35" x2="494" y2="565.07"/><line x1="443.83" y1="619.21" x2="544.17" y2="619.21"/></g>
<line x1="548.73" y1="565.07" x2="548.73" y2="673.35" stroke="#EBEBEB" stroke-width="1.07"/><line x1="571.53" y1="565.07" x2="571.53" y2="673.35" stroke="#EBEBEB" stroke-width="0.53"/><line x1="594.33" y1="565.07" x2="594.33" y2="673.35" stroke="#EBEBEB" stroke-width="1.07"/><line x1="617.14" y1="565.07" x2="617.14" y2="673.35" stroke="#EBEBEB" stroke-width="0.53"/><line x1="639.94" y1="565.07" x2="639.94" y2="673.35" stroke="#EBEBEB" stroke-width="0.53"/><line x1="544.17" y1="668.43" x2="644.5" y2="668.43" stroke="#EBEBEB" stroke-width="1.07"/><line x1="544.17" y1="643.82" x2="644.5" y2="643.82" stroke="#EBEBEB" stroke-width="0.53"/><line x1="544.17" y1="619.21" x2="644.5" y2="619.21" stroke="#EBEBEB" stroke-width="1.07"/><line x1="544.17" y1="594.6" x2="644.5" y2="594.6" stroke="#EBEBEB" stroke-width="0.53"/><line x1="544.17" y1="569.99" x2="644.5" y2="569.99" stroke="#EBEBEB" stroke-width="1.07"/>
<g mask="url(#c55)"><rect x="547.73" y="568.99" width="93.21" height="100.44" fill="#0B0405"/>
<path d="M641.31 568.51 547.36 568.51 547.36 669.9 641.31 669.9Z" fill="#2E1E3C" fill-rule="evenodd"/>
<path d="M641.31 568.51 552.03 568.51 552.03 569.99 548.73 574.35 547.36 574.35 547.36 669.9 636.54 669.9 636.57 661.05 638.23 633.15 639.94 624.17 641.31 624.17Z" fill="#413D7B" fill-rule="evenodd"/>
<path d="M620.8 568.51 589.25 568.51 589.25 569.99 581.41 576.54 567.94 590.5 562.62 595.42 557.62 599.52 553.29 602.46 548.73 604.81 547.36 604.81 547.36 669.9 599.75 669.9 600.14 663.51 602.59 650.38 605.48 630.69 607.21 622.49 610.39 613.47 619.74 594.6 622.46 585.65 623.03 581.47 623 577.37 622.24 573.27 620.8 569.99Z" fill="#37659E" fill-rule="evenodd"/>
<path d="M569.25 624.4 565.45 623.13 560.89 622.74 556.33 623.21 548.73 625 547.36 625 547.36 669.9 583.96 669.9 583.85 652.02 582.96 645.46 581.46 639.72 579.13 634.22 576.26 629.87 573.05 626.73Z" fill="#348FA7" fill-rule="evenodd"/>
<path d="M559.37 645.22 554.81 643.96 547.36 644.15 547.36 669.9 568.2 669.9 568.09 661.05 566.84 654.48 565.45 651.24 563.93 648.95 561.65 646.67Z" fill="#40B7AD" fill-rule="evenodd"/>
</g>
<g clip-path="url(#p55)" stroke="#FF0000" stroke-width="1.7" stroke-dasharray="5.9 5.9"><line x1="594.33" y1="673.35" x2="594.33" y2="565.07"/><line x1="544.17" y1="619.21" x2="644.5" y2="619.21"/></g>
<rect x="42.5" y="23.65" width="100.33" height="108.28" fill="none" stroke="#333333" stroke-width="1.07"/>
<rect x="142.83" y="23.65" width="100.33" height="108.28" fill="none" stroke="#333333" stroke-width="1.07"/>
<rect x="243.17" y="23.65" width="100.33" height="108.28" fill="none" stroke="#333333" stroke-width="1.07"/>
<rect x="343.5" y="23.65" width="100.33" height="108.28" fill="none" stroke="#333333" stroke-width="1.07"/>
<rect x="443.83" y="23.65" width="100.33" height="108.28" fill="none" stroke="#333333" stroke-width="1.07"/>
<rect x="544.17" y="23.65" width="100.33" height="108.28" fill="none" stroke="#333333" stroke-width="1.07"/>
<rect x="42.5" y="131.93" width="100.33" height="108.28" fill="none" stroke="#333333" stroke-width="1.07"/>
<rect x="142.83" y="131.93" width="100.33" height="108.28" fill="none" stroke="#333333" stroke-width="1.07"/>
<rect x="243.17" y="131.93" width="100.33" height="108.28" fill="none" stroke="#333333" stroke-width="1.07"/>
<rect x="343.5" y="131.93" width="100.33" height="108.28" fill="none" stroke="#333333" stroke-width="1.07"/>
<rect x="443.83" y="131.93" width="100.33" height="108.28" fill="none" stroke="#333333" stroke-width="1.07"/>
<rect x="544.17" y="131.93" width="100.33" height="108.28" fill="none" stroke="#333333" stroke-width="1.07"/>
<rect x="42.5" y="240.22" width="100.33" height="108.28" fill="none" stroke="#333333" stroke-width="1.07"/>
<rect x="142.83" y="240.22" width="100.33" height="108.28" fill="none" stroke="#333333" stroke-width="1.07"/>
<rect x="243.17" y="240.22" width="100.33" height="108.28" fill="none" stroke="#333333" stroke-width="1.07"/>
<rect x="343.5" y="240.22" width="100.33" height="108.28" fill="none" stroke="#333333" stroke-width="1.07"/>
<rect x="443.83" y="240.22" width="100.33" height="108.28" fill="none" stroke="#333333" stroke-width="1.07"/>
<rect x="544.17" y="240.22" width="100.33" height="108.28" fill="none" stroke="#333333" stroke-width="1.07"/>
<rect x="42.5" y="348.5" width="100.33" height="108.28" fill="none" stroke="#333333" stroke-width="1.07"/>
<rect x="142.83" y="348.5" width="100.33" height="108.28" fill="none" stroke="#333333" stroke-width="1.07"/>
<rect x="243.17" y="348.5" width="100.33" height="108.28" fill="none" stroke="#333333" stroke-width="1.07"/>
<rect x="343.5" y="348.5" width="100.33" height="108.28" fill="none" stroke="#333333" stroke-width="1.07"/>
<rect x="443.83" y="348.5" width="100.33" height="108.28" fill="none" stroke="#333333" stroke-width="1.07"/>
<rect x="544.17" y="348.5" width="100.33" height="108.28" fill="none" stroke="#333333" stroke-width="1.07"/>
<rect x="42.5" y="456.78" width="100.33" height="108.28" fill="none" stroke="#333333" stroke-width="1.07"/>
<rect x="142.83" y="456.78" width="100.33" height="108.28" fill="none" stroke="#333333" stroke-width="1.07"/>
<rect x="243.17" y="456.78" width="100.33" height="108.28" fill="none" stroke="#333333" stroke-width="1.07"/>
<rect x="343.5" y="456.78" width="100.33" height="108.28" fill="none" stroke="#333333" stroke-width="1.07"/>
<rect x="443.83" y="456.78" width="100.33" height="108.28" fill="none" stroke="#333333" stroke-width="1.07"/>
<rect x="544.17" y="456.78" width="100.33" height="108.28" fill="none" stroke="#333333" stroke-width="1.07"/>
<rect x="42.5" y="565.07" width="100.33" height="108.28" fill="none" stroke="#333333" stroke-width="1.07"/>
<rect x="142.83" y="565.07" width="100.33" height="108.28" fill="none" stroke="#333333" stroke-width="1.07"/>
<rect x="243.17" y="565.07" width="100.33" height="108.28" fill="none" stroke="#333333" stroke-width="1.07"/>
<rect x="343.5" y="565.07" width="100.33" height="108.28" fill="none" stroke="#333333" stroke-width="1.07"/>
<rect x="443.83" y="565.07" width="100.33" height="108.28" fill="none" stroke="#333333" stroke-width="1.07"/>
<rect x="544.17" y="565.07" width="100.33" height="108.28" fill="none" stroke="#333333" stroke-width="1.07"/>
<rect x="42.5" y="0.2" width="100.33" height="23.45" fill="#fff" stroke="#333333" stroke-width="1.07"/>
<text x="92.67" y="17.1" text-anchor="middle" font-size="12.5" fill="#1A1A1A"><tspan dy="0.9">−</tspan><tspan dy="-0.9">0mm</tspan></text>
<rect x="142.83" y="0.2" width="100.33" height="23.45" fill="#fff" stroke="#333333" stroke-width="1.07"/>
<text x="193" y="17.1" text-anchor="middle" font-size="12.5" fill="#1A1A1A"><tspan dy="0.9">−</tspan><tspan dy="-0.9">10mm</tspan></text>
<rect x="243.17" y="0.2" width="100.33" height="23.45" fill="#fff" stroke="#333333" stroke-width="1.07"/>
<text x="293.33" y="17.1" text-anchor="middle" font-size="12.5" fill="#1A1A1A"><tspan dy="0.9">−</tspan><tspan dy="-0.9">20mm</tspan></text>
<rect x="343.5" y="0.2" width="100.33" height="23.45" fill="#fff" stroke="#333333" stroke-width="1.07"/>
<text x="393.67" y="17.1" text-anchor="middle" font-size="12.5" fill="#1A1A1A"><tspan dy="0.9">−</tspan><tspan dy="-0.9">30mm</tspan></text>
<rect x="443.83" y="0.2" width="100.33" height="23.45" fill="#fff" stroke="#333333" stroke-width="1.07"/>
<text x="494" y="17.1" text-anchor="middle" font-size="12.5" fill="#1A1A1A"><tspan dy="0.9">−</tspan><tspan dy="-0.9">40mm</tspan></text>
<rect x="544.17" y="0.2" width="100.33" height="23.45" fill="#fff" stroke="#333333" stroke-width="1.07"/>
<text x="594.33" y="17.1" text-anchor="middle" font-size="12.5" fill="#1A1A1A"><tspan dy="0.9">−</tspan><tspan dy="-0.9">50mm</tspan></text>
<rect x="644.5" y="23.65" width="40" height="108.28" fill="#fff" stroke="#333333" stroke-width="1.07"/>
<text x="650.4" y="82.79" font-size="12.5" fill="#1A1A1A">+5</text><circle cx="667.1" cy="75.49" r="1.2" fill="none" stroke="#1A1A1A" stroke-width="0.75"/><text x="668.2" y="82.79" font-size="12.5" fill="#1A1A1A">C</text>
<rect x="644.5" y="131.93" width="40" height="108.28" fill="#fff" stroke="#333333" stroke-width="1.07"/>
<text x="650.4" y="191.08" font-size="12.5" fill="#1A1A1A">+4</text><circle cx="667.1" cy="183.78" r="1.2" fill="none" stroke="#1A1A1A" stroke-width="0.75"/><text x="668.2" y="191.08" font-size="12.5" fill="#1A1A1A">C</text>
<rect x="644.5" y="240.22" width="40" height="108.28" fill="#fff" stroke="#333333" stroke-width="1.07"/>
<text x="650.4" y="299.36" font-size="12.5" fill="#1A1A1A">+3</text><circle cx="667.1" cy="292.06" r="1.2" fill="none" stroke="#1A1A1A" stroke-width="0.75"/><text x="668.2" y="299.36" font-size="12.5" fill="#1A1A1A">C</text>
<rect x="644.5" y="348.5" width="40" height="108.28" fill="#fff" stroke="#333333" stroke-width="1.07"/>
<text x="650.4" y="407.64" font-size="12.5" fill="#1A1A1A">+2</text><circle cx="667.1" cy="400.34" r="1.2" fill="none" stroke="#1A1A1A" stroke-width="0.75"/><text x="668.2" y="407.64" font-size="12.5" fill="#1A1A1A">C</text>
<rect x="644.5" y="456.78" width="40" height="108.28" fill="#fff" stroke="#333333" stroke-width="1.07"/>
<text x="650.4" y="515.92" font-size="12.5" fill="#1A1A1A">+1</text><circle cx="667.1" cy="508.62" r="1.2" fill="none" stroke="#1A1A1A" stroke-width="0.75"/><text x="668.2" y="515.92" font-size="12.5" fill="#1A1A1A">C</text>
<rect x="644.5" y="565.07" width="40" height="108.28" fill="#fff" stroke="#333333" stroke-width="1.07"/>
<text x="650.4" y="624.21" font-size="12.5" fill="#1A1A1A">+0</text><circle cx="667.1" cy="616.91" r="1.2" fill="none" stroke="#1A1A1A" stroke-width="0.75"/><text x="668.2" y="624.21" font-size="12.5" fill="#1A1A1A">C</text>
<line x1="38.9" y1="127.01" x2="42.5" y2="127.01" stroke="#333333" stroke-width="1.07"/>
<text x="36.2" y="131.41" text-anchor="end" font-size="12.9" fill="#4D4D4D">0.0</text>
<line x1="38.9" y1="77.79" x2="42.5" y2="77.79" stroke="#333333" stroke-width="1.07"/>
<text x="36.2" y="82.19" text-anchor="end" font-size="12.9" fill="#4D4D4D">0.5</text>
<line x1="38.9" y1="28.57" x2="42.5" y2="28.57" stroke="#333333" stroke-width="1.07"/>
<text x="36.2" y="32.97" text-anchor="end" font-size="12.9" fill="#4D4D4D">1.0</text>
<line x1="38.9" y1="235.29" x2="42.5" y2="235.29" stroke="#333333" stroke-width="1.07"/>
<text x="36.2" y="239.69" text-anchor="end" font-size="12.9" fill="#4D4D4D">0.0</text>
<line x1="38.9" y1="186.08" x2="42.5" y2="186.08" stroke="#333333" stroke-width="1.07"/>
<text x="36.2" y="190.48" text-anchor="end" font-size="12.9" fill="#4D4D4D">0.5</text>
<line x1="38.9" y1="136.86" x2="42.5" y2="136.86" stroke="#333333" stroke-width="1.07"/>
<text x="36.2" y="141.26" text-anchor="end" font-size="12.9" fill="#4D4D4D">1.0</text>
<line x1="38.9" y1="343.58" x2="42.5" y2="343.58" stroke="#333333" stroke-width="1.07"/>
<text x="36.2" y="347.98" text-anchor="end" font-size="12.9" fill="#4D4D4D">0.0</text>
<line x1="38.9" y1="294.36" x2="42.5" y2="294.36" stroke="#333333" stroke-width="1.07"/>
<text x="36.2" y="298.76" text-anchor="end" font-size="12.9" fill="#4D4D4D">0.5</text>
<line x1="38.9" y1="245.14" x2="42.5" y2="245.14" stroke="#333333" stroke-width="1.07"/>
<text x="36.2" y="249.54" text-anchor="end" font-size="12.9" fill="#4D4D4D">1.0</text>
<line x1="38.9" y1="451.86" x2="42.5" y2="451.86" stroke="#333333" stroke-width="1.07"/>
<text x="36.2" y="456.26" text-anchor="end" font-size="12.9" fill="#4D4D4D">0.0</text>
<line x1="38.9" y1="402.64" x2="42.5" y2="402.64" stroke="#333333" stroke-width="1.07"/>
<text x="36.2" y="407.04" text-anchor="end" font-size="12.9" fill="#4D4D4D">0.5</text>
<line x1="38.9" y1="353.42" x2="42.5" y2="353.42" stroke="#333333" stroke-width="1.07"/>
<text x="36.2" y="357.82" text-anchor="end" font-size="12.9" fill="#4D4D4D">1.0</text>
<line x1="38.9" y1="560.14" x2="42.5" y2="560.14" stroke="#333333" stroke-width="1.07"/>
<text x="36.2" y="564.54" text-anchor="end" font-size="12.9" fill="#4D4D4D">0.0</text>
<line x1="38.9" y1="510.93" x2="42.5" y2="510.93" stroke="#333333" stroke-width="1.07"/>
<text x="36.2" y="515.33" text-anchor="end" font-size="12.9" fill="#4D4D4D">0.5</text>
<line x1="38.9" y1="461.71" x2="42.5" y2="461.71" stroke="#333333" stroke-width="1.07"/>
<text x="36.2" y="466.11" text-anchor="end" font-size="12.9" fill="#4D4D4D">1.0</text>
<line x1="38.9" y1="668.43" x2="42.5" y2="668.43" stroke="#333333" stroke-width="1.07"/>
<text x="36.2" y="672.83" text-anchor="end" font-size="12.9" fill="#4D4D4D">0.0</text>
<line x1="38.9" y1="619.21" x2="42.5" y2="619.21" stroke="#333333" stroke-width="1.07"/>
<text x="36.2" y="623.61" text-anchor="end" font-size="12.9" fill="#4D4D4D">0.5</text>
<line x1="38.9" y1="569.99" x2="42.5" y2="569.99" stroke="#333333" stroke-width="1.07"/>
<text x="36.2" y="574.39" text-anchor="end" font-size="12.9" fill="#4D4D4D">1.0</text>
<line x1="47.06" y1="673.35" x2="47.06" y2="676.95" stroke="#333333" stroke-width="1.07"/>
<text x="47.06" y="689.6" text-anchor="middle" font-size="12.9" fill="#4D4D4D">0.0</text>
<line x1="92.67" y1="673.35" x2="92.67" y2="676.95" stroke="#333333" stroke-width="1.07"/>
<text x="92.67" y="689.6" text-anchor="middle" font-size="12.9" fill="#4D4D4D">0.5</text>
<line x1="147.39" y1="673.35" x2="147.39" y2="676.95" stroke="#333333" stroke-width="1.07"/>
<text x="147.39" y="689.6" text-anchor="middle" font-size="12.9" fill="#4D4D4D">0.0</text>
<line x1="193" y1="673.35" x2="193" y2="676.95" stroke="#333333" stroke-width="1.07"/>
<text x="193" y="689.6" text-anchor="middle" font-size="12.9" fill="#4D4D4D">0.5</text>
<line x1="247.73" y1="673.35" x2="247.73" y2="676.95" stroke="#333333" stroke-width="1.07"/>
<text x="247.73" y="689.6" text-anchor="middle" font-size="12.9" fill="#4D4D4D">0.0</text>
<line x1="293.33" y1="673.35" x2="293.33" y2="676.95" stroke="#333333" stroke-width="1.07"/>
<text x="293.33" y="689.6" text-anchor="middle" font-size="12.9" fill="#4D4D4D">0.5</text>
<line x1="348.06" y1="673.35" x2="348.06" y2="676.95" stroke="#333333" stroke-width="1.07"/>
<text x="348.06" y="689.6" text-anchor="middle" font-size="12.9" fill="#4D4D4D">0.0</text>
<line x1="393.67" y1="673.35" x2="393.67" y2="676.95" stroke="#333333" stroke-width="1.07"/>
<text x="393.67" y="689.6" text-anchor="middle" font-size="12.9" fill="#4D4D4D">0.5</text>
<line x1="448.39" y1="673.35" x2="448.39" y2="676.95" stroke="#333333" stroke-width="1.07"/>
<text x="448.39" y="689.6" text-anchor="middle" font-size="12.9" fill="#4D4D4D">0.0</text>
<line x1="494" y1="673.35" x2="494" y2="676.95" stroke="#333333" stroke-width="1.07"/>
<text x="494" y="689.6" text-anchor="middle" font-size="12.9" fill="#4D4D4D">0.5</text>
<line x1="548.73" y1="673.35" x2="548.73" y2="676.95" stroke="#333333" stroke-width="1.07"/>
<text x="548.73" y="689.6" text-anchor="middle" font-size="12.9" fill="#4D4D4D">0.0</text>
<line x1="594.33" y1="673.35" x2="594.33" y2="676.95" stroke="#333333" stroke-width="1.07"/>
<text x="594.33" y="689.6" text-anchor="middle" font-size="12.9" fill="#4D4D4D">0.5</text>
<text x="345.7" y="711.5" text-anchor="middle" font-size="15.3" fill="#000">Resistance</text>
<text transform="translate(10.9 347.5) rotate(-90)" x="0" y="0" text-anchor="middle" font-size="15.3" fill="#000">Resilience Potential</text>
<rect x="312.7" y="732.9" width="15.3" height="23.9" fill="#0B0405"/>
<rect x="327.7" y="732.9" width="15.3" height="23.9" fill="#2E1E3C"/>
<rect x="342.7" y="732.9" width="15.3" height="23.9" fill="#413D7B"/>
<rect x="357.7" y="732.9" width="15.3" height="23.9" fill="#37659E"/>
<rect x="372.7" y="732.9" width="15.3" height="23.9" fill="#348FA7"/>
<rect x="387.7" y="732.9" width="15.3" height="23.9" fill="#40B7AD"/>
<rect x="402.7" y="732.9" width="15.3" height="23.9" fill="#8AD9B1"/>
<rect x="417.7" y="732.9" width="15.3" height="23.9" fill="#DEF5E5"/>
<text x="305.7" y="750.55" text-anchor="end" font-size="15.3" fill="#000">Density</text>
<text x="319.7" y="773.6" text-anchor="middle" font-size="12.5" fill="#000">0</text>
<text x="373.4" y="773.6" text-anchor="middle" font-size="12.5" fill="#000">0.5</text>
<text x="424.5" y="773.6" text-anchor="middle" font-size="12.5" fill="#000">1</text>
</g></svg></body></html>
